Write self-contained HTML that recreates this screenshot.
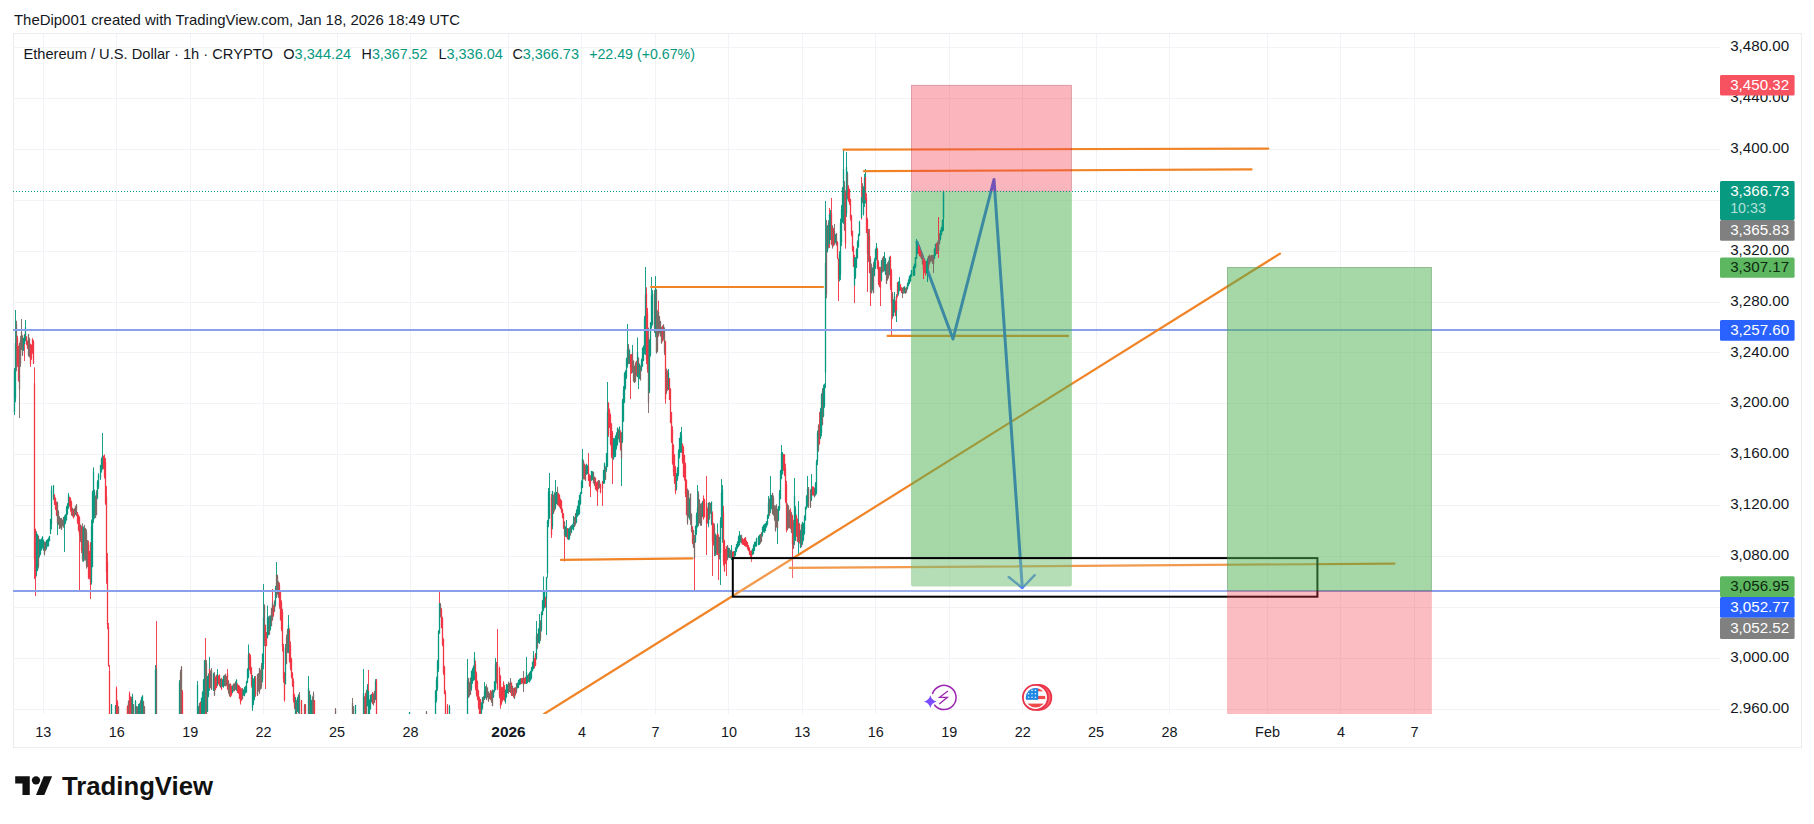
<!DOCTYPE html>
<html lang="en"><head><meta charset="utf-8"><title>ETHUSD 1h - TradingView</title>
<style>
html,body{margin:0;padding:0;background:#fff;}
body{width:1814px;height:824px;overflow:hidden;font-family:"Liberation Sans", Arial, sans-serif;}
svg{display:block}
text{font-family:"Liberation Sans", Arial, sans-serif;fill:#131722;}
.ax{font-size:15px}
.tag{font-size:15px}
</style></head><body>
<svg width="1814" height="824" viewBox="0 0 1814 824">
<defs>
<clipPath id="pane"><rect x="13" y="34" width="1707" height="680"/></clipPath>
<clipPath id="axclip"><rect x="1720" y="34" width="81" height="679.5"/></clipPath>
<clipPath id="flagclip"><circle cx="1035.6" cy="697.8" r="9.8"/></clipPath>
</defs>
<rect width="1814" height="824" fill="#fff"/>

<text x="14.0" y="25.2" font-size="15" textLength="446" lengthAdjust="spacingAndGlyphs">TheDip001 created with TradingView.com, Jan 18, 2026 18:49 UTC</text>
<rect x="13.5" y="33.5" width="1788" height="714" fill="none" stroke="#ebecef" stroke-width="1"/>
<g stroke="#f2f3f6" stroke-width="1" shape-rendering="crispEdges">
<line x1="43.5" y1="34" x2="43.5" y2="714"/>
<line x1="116.5" y1="34" x2="116.5" y2="714"/>
<line x1="190.5" y1="34" x2="190.5" y2="714"/>
<line x1="263.5" y1="34" x2="263.5" y2="714"/>
<line x1="337.5" y1="34" x2="337.5" y2="714"/>
<line x1="410.5" y1="34" x2="410.5" y2="714"/>
<line x1="508.5" y1="34" x2="508.5" y2="714"/>
<line x1="581.5" y1="34" x2="581.5" y2="714"/>
<line x1="655.5" y1="34" x2="655.5" y2="714"/>
<line x1="728.5" y1="34" x2="728.5" y2="714"/>
<line x1="802.5" y1="34" x2="802.5" y2="714"/>
<line x1="875.5" y1="34" x2="875.5" y2="714"/>
<line x1="949.5" y1="34" x2="949.5" y2="714"/>
<line x1="1022.5" y1="34" x2="1022.5" y2="714"/>
<line x1="1096.5" y1="34" x2="1096.5" y2="714"/>
<line x1="1169.5" y1="34" x2="1169.5" y2="714"/>
<line x1="1267.5" y1="34" x2="1267.5" y2="714"/>
<line x1="1340.5" y1="34" x2="1340.5" y2="714"/>
<line x1="1414.5" y1="34" x2="1414.5" y2="714"/>
<line x1="13" y1="47.5" x2="1720" y2="47.5"/>
<line x1="13" y1="98.5" x2="1720" y2="98.5"/>
<line x1="13" y1="149.5" x2="1720" y2="149.5"/>
<line x1="13" y1="200.5" x2="1720" y2="200.5"/>
<line x1="13" y1="251.5" x2="1720" y2="251.5"/>
<line x1="13" y1="302.5" x2="1720" y2="302.5"/>
<line x1="13" y1="352.5" x2="1720" y2="352.5"/>
<line x1="13" y1="403.5" x2="1720" y2="403.5"/>
<line x1="13" y1="454.5" x2="1720" y2="454.5"/>
<line x1="13" y1="505.5" x2="1720" y2="505.5"/>
<line x1="13" y1="556.5" x2="1720" y2="556.5"/>
<line x1="13" y1="607.5" x2="1720" y2="607.5"/>
<line x1="13" y1="658.5" x2="1720" y2="658.5"/>
<line x1="13" y1="709.5" x2="1720" y2="709.5"/>
</g>
<g clip-path="url(#pane)">
<g><rect x="14.00" y="368.0" width="1" height="47.0" fill="#089981" opacity="0.92"/>
<rect x="13.85" y="370.6" width="1.3" height="41.3" fill="#089981"/>
<rect x="15.00" y="310.0" width="1" height="92.2" fill="#089981" opacity="0.92"/>
<rect x="14.85" y="343.0" width="1.3" height="55.5" fill="#089981"/>
<rect x="16.00" y="320.7" width="1" height="50.6" fill="#7d6a66" opacity="0.92"/>
<rect x="15.85" y="323.8" width="1.3" height="44.0" fill="#7d6a66"/>
<rect x="17.00" y="335.8" width="1" height="30.9" fill="#f23645" opacity="0.92"/>
<rect x="16.85" y="338.1" width="1.3" height="25.6" fill="#f23645"/>
<rect x="18.00" y="345.7" width="1" height="36.0" fill="#f23645" opacity="0.92"/>
<rect x="17.85" y="346.1" width="1.3" height="34.3" fill="#f23645"/>
<rect x="19.00" y="342.7" width="1" height="75.3" fill="#7d6a66" opacity="0.92"/>
<rect x="18.85" y="343.3" width="1.3" height="46.2" fill="#7d6a66"/>
<rect x="20.00" y="335.9" width="1" height="31.0" fill="#7d6a66" opacity="0.92"/>
<rect x="19.85" y="339.6" width="1.3" height="23.8" fill="#7d6a66"/>
<rect x="21.00" y="319.0" width="1" height="30.9" fill="#7d6a66" opacity="0.92"/>
<rect x="20.85" y="332.2" width="1.3" height="17.7" fill="#7d6a66"/>
<rect x="22.00" y="335.2" width="1" height="20.5" fill="#7d6a66" opacity="0.92"/>
<rect x="21.85" y="336.5" width="1.3" height="19.1" fill="#7d6a66"/>
<rect x="22.85" y="337.9" width="1.3" height="13.0" fill="#089981"/>
<rect x="24.00" y="333.9" width="1" height="27.1" fill="#f23645" opacity="0.92"/>
<rect x="23.85" y="335.0" width="1.3" height="9.0" fill="#089981"/>
<rect x="25.00" y="320.0" width="1" height="21.2" fill="#089981" opacity="0.92"/>
<rect x="24.85" y="327.4" width="1.3" height="12.8" fill="#089981"/>
<rect x="26.00" y="336.3" width="1" height="8.8" fill="#f23645" opacity="0.92"/>
<rect x="25.85" y="336.6" width="1.3" height="7.5" fill="#f23645"/>
<rect x="27.00" y="340.5" width="1" height="8.3" fill="#f23645" opacity="0.92"/>
<rect x="26.85" y="341.2" width="1.3" height="7.3" fill="#f23645"/>
<rect x="28.00" y="334.0" width="1" height="22.5" fill="#7d6a66" opacity="0.92"/>
<rect x="27.85" y="334.6" width="1.3" height="21.1" fill="#7d6a66"/>
<rect x="29.00" y="337.8" width="1" height="19.7" fill="#7d6a66" opacity="0.92"/>
<rect x="28.85" y="338.7" width="1.3" height="16.8" fill="#7d6a66"/>
<rect x="30.00" y="343.7" width="1" height="23.1" fill="#f23645" opacity="0.92"/>
<rect x="29.85" y="344.7" width="1.3" height="19.3" fill="#f23645"/>
<rect x="31.00" y="344.5" width="1" height="15.4" fill="#f23645" opacity="0.92"/>
<rect x="30.85" y="344.9" width="1.3" height="13.3" fill="#f23645"/>
<rect x="32.00" y="338.2" width="1" height="15.6" fill="#f23645" opacity="0.92"/>
<rect x="31.85" y="339.0" width="1.3" height="12.8" fill="#f23645"/>
<rect x="33.00" y="340.2" width="1" height="23.7" fill="#f23645" opacity="0.92"/>
<rect x="32.85" y="341.3" width="1.3" height="22.3" fill="#f23645"/>
<rect x="34.00" y="367.3" width="1" height="211.7" fill="#f23645" opacity="0.92"/>
<rect x="33.85" y="383.3" width="1.3" height="175.9" fill="#f23645"/>
<rect x="35.00" y="528.7" width="1" height="67.3" fill="#f23645" opacity="0.92"/>
<rect x="34.85" y="530.3" width="1.3" height="47.7" fill="#f23645"/>
<rect x="36.00" y="531.3" width="1" height="45.0" fill="#089981" opacity="0.92"/>
<rect x="35.85" y="533.1" width="1.3" height="38.0" fill="#089981"/>
<rect x="37.00" y="534.2" width="1" height="37.0" fill="#089981" opacity="0.92"/>
<rect x="36.85" y="534.6" width="1.3" height="36.3" fill="#089981"/>
<rect x="38.00" y="535.5" width="1" height="32.9" fill="#7d6a66" opacity="0.92"/>
<rect x="37.85" y="536.2" width="1.3" height="30.0" fill="#7d6a66"/>
<rect x="39.00" y="539.1" width="1" height="18.5" fill="#089981" opacity="0.92"/>
<rect x="38.85" y="539.4" width="1.3" height="16.8" fill="#089981"/>
<rect x="40.00" y="539.5" width="1" height="15.5" fill="#089981" opacity="0.92"/>
<rect x="39.85" y="539.7" width="1.3" height="14.5" fill="#089981"/>
<rect x="41.00" y="538.3" width="1" height="12.2" fill="#089981" opacity="0.92"/>
<rect x="40.85" y="539.7" width="1.3" height="9.6" fill="#089981"/>
<rect x="42.00" y="536.3" width="1" height="12.1" fill="#089981" opacity="0.92"/>
<rect x="41.85" y="536.7" width="1.3" height="10.4" fill="#089981"/>
<rect x="43.00" y="539.5" width="1" height="11.2" fill="#089981" opacity="0.92"/>
<rect x="42.85" y="540.7" width="1.3" height="9.2" fill="#089981"/>
<rect x="44.00" y="541.6" width="1" height="13.9" fill="#7d6a66" opacity="0.92"/>
<rect x="43.85" y="541.8" width="1.3" height="12.1" fill="#7d6a66"/>
<rect x="45.00" y="541.8" width="1" height="9.1" fill="#7d6a66" opacity="0.92"/>
<rect x="44.85" y="542.2" width="1.3" height="8.5" fill="#7d6a66"/>
<rect x="46.00" y="540.1" width="1" height="9.3" fill="#089981" opacity="0.92"/>
<rect x="45.85" y="540.2" width="1.3" height="8.5" fill="#089981"/>
<rect x="47.00" y="539.3" width="1" height="7.3" fill="#089981" opacity="0.92"/>
<rect x="46.85" y="539.6" width="1.3" height="6.6" fill="#089981"/>
<rect x="48.00" y="537.5" width="1" height="9.0" fill="#089981" opacity="0.92"/>
<rect x="47.85" y="538.5" width="1.3" height="7.4" fill="#089981"/>
<rect x="48.85" y="535.8" width="1.3" height="5.5" fill="#089981"/>
<rect x="50.00" y="518.7" width="1" height="15.4" fill="#089981" opacity="0.92"/>
<rect x="49.85" y="519.1" width="1.3" height="14.6" fill="#089981"/>
<rect x="51.00" y="485.8" width="1" height="43.5" fill="#089981" opacity="0.92"/>
<rect x="50.85" y="489.7" width="1.3" height="34.7" fill="#089981"/>
<rect x="53.00" y="485.1" width="1" height="15.0" fill="#089981" opacity="0.92"/>
<rect x="52.85" y="485.5" width="1.3" height="12.9" fill="#089981"/>
<rect x="54.00" y="494.3" width="1" height="10.6" fill="#f23645" opacity="0.92"/>
<rect x="53.85" y="494.8" width="1.3" height="9.9" fill="#f23645"/>
<rect x="55.00" y="497.5" width="1" height="12.5" fill="#f23645" opacity="0.92"/>
<rect x="54.85" y="497.9" width="1.3" height="11.1" fill="#f23645"/>
<rect x="56.00" y="501.5" width="1" height="14.6" fill="#f23645" opacity="0.92"/>
<rect x="55.85" y="502.5" width="1.3" height="13.0" fill="#f23645"/>
<rect x="57.00" y="501.8" width="1" height="33.2" fill="#089981" opacity="0.92"/>
<rect x="56.85" y="502.3" width="1.3" height="20.9" fill="#7d6a66"/>
<rect x="58.00" y="510.3" width="1" height="14.7" fill="#7d6a66" opacity="0.92"/>
<rect x="57.85" y="511.8" width="1.3" height="12.1" fill="#7d6a66"/>
<rect x="59.00" y="516.1" width="1" height="12.9" fill="#7d6a66" opacity="0.92"/>
<rect x="58.85" y="517.6" width="1.3" height="11.2" fill="#7d6a66"/>
<rect x="59.85" y="518.0" width="1.3" height="10.2" fill="#7d6a66"/>
<rect x="61.00" y="517.9" width="1" height="11.9" fill="#7d6a66" opacity="0.92"/>
<rect x="60.85" y="518.7" width="1.3" height="10.9" fill="#7d6a66"/>
<rect x="62.00" y="519.6" width="1" height="6.7" fill="#7d6a66" opacity="0.92"/>
<rect x="61.85" y="520.2" width="1.3" height="5.6" fill="#7d6a66"/>
<rect x="62.85" y="516.9" width="1.3" height="10.8" fill="#7d6a66"/>
<rect x="64.00" y="515.4" width="1" height="36.6" fill="#089981" opacity="0.92"/>
<rect x="63.85" y="516.6" width="1.3" height="8.9" fill="#089981"/>
<rect x="65.00" y="514.1" width="1" height="9.7" fill="#089981" opacity="0.92"/>
<rect x="64.85" y="514.8" width="1.3" height="8.4" fill="#089981"/>
<rect x="66.00" y="506.1" width="1" height="14.6" fill="#089981" opacity="0.92"/>
<rect x="65.85" y="507.3" width="1.3" height="12.7" fill="#089981"/>
<rect x="67.00" y="503.1" width="1" height="11.8" fill="#089981" opacity="0.92"/>
<rect x="66.85" y="503.8" width="1.3" height="10.0" fill="#089981"/>
<rect x="68.00" y="493.0" width="1" height="15.9" fill="#089981" opacity="0.92"/>
<rect x="67.85" y="494.8" width="1.3" height="12.8" fill="#089981"/>
<rect x="69.00" y="496.6" width="1" height="10.0" fill="#f23645" opacity="0.92"/>
<rect x="68.85" y="497.7" width="1.3" height="8.4" fill="#f23645"/>
<rect x="70.00" y="497.3" width="1" height="14.3" fill="#f23645" opacity="0.92"/>
<rect x="69.85" y="498.4" width="1.3" height="11.5" fill="#f23645"/>
<rect x="71.00" y="500.7" width="1" height="14.9" fill="#f23645" opacity="0.92"/>
<rect x="70.85" y="502.2" width="1.3" height="12.6" fill="#f23645"/>
<rect x="72.00" y="507.7" width="1" height="8.8" fill="#7d6a66" opacity="0.92"/>
<rect x="71.85" y="508.3" width="1.3" height="7.5" fill="#7d6a66"/>
<rect x="73.00" y="509.0" width="1" height="9.6" fill="#f23645" opacity="0.92"/>
<rect x="72.85" y="509.1" width="1.3" height="8.8" fill="#f23645"/>
<rect x="74.00" y="508.3" width="1" height="8.4" fill="#7d6a66" opacity="0.92"/>
<rect x="73.85" y="508.7" width="1.3" height="7.3" fill="#7d6a66"/>
<rect x="75.00" y="505.9" width="1" height="9.1" fill="#7d6a66" opacity="0.92"/>
<rect x="74.85" y="506.0" width="1.3" height="8.2" fill="#7d6a66"/>
<rect x="76.00" y="504.1" width="1" height="12.0" fill="#7d6a66" opacity="0.92"/>
<rect x="75.85" y="504.9" width="1.3" height="10.5" fill="#7d6a66"/>
<rect x="77.00" y="512.0" width="1" height="11.9" fill="#f23645" opacity="0.92"/>
<rect x="76.85" y="512.9" width="1.3" height="9.7" fill="#f23645"/>
<rect x="78.00" y="514.6" width="1" height="16.9" fill="#f23645" opacity="0.92"/>
<rect x="77.85" y="515.2" width="1.3" height="15.0" fill="#f23645"/>
<rect x="79.00" y="516.4" width="1" height="73.6" fill="#f23645" opacity="0.92"/>
<rect x="78.85" y="516.9" width="1.3" height="18.5" fill="#f23645"/>
<rect x="80.00" y="524.4" width="1" height="17.7" fill="#7d6a66" opacity="0.92"/>
<rect x="79.85" y="525.3" width="1.3" height="14.9" fill="#7d6a66"/>
<rect x="81.00" y="525.6" width="1" height="27.4" fill="#f23645" opacity="0.92"/>
<rect x="80.85" y="527.0" width="1.3" height="23.3" fill="#f23645"/>
<rect x="82.00" y="523.3" width="1" height="38.2" fill="#7d6a66" opacity="0.92"/>
<rect x="81.85" y="527.3" width="1.3" height="32.4" fill="#7d6a66"/>
<rect x="83.00" y="526.4" width="1" height="35.4" fill="#089981" opacity="0.92"/>
<rect x="82.85" y="528.5" width="1.3" height="29.7" fill="#089981"/>
<rect x="84.00" y="524.8" width="1" height="35.8" fill="#7d6a66" opacity="0.92"/>
<rect x="83.85" y="527.9" width="1.3" height="28.7" fill="#7d6a66"/>
<rect x="85.00" y="527.9" width="1" height="32.7" fill="#7d6a66" opacity="0.92"/>
<rect x="84.85" y="529.0" width="1.3" height="30.8" fill="#7d6a66"/>
<rect x="86.00" y="529.3" width="1" height="39.3" fill="#7d6a66" opacity="0.92"/>
<rect x="85.85" y="532.3" width="1.3" height="34.0" fill="#7d6a66"/>
<rect x="87.00" y="540.0" width="1" height="27.2" fill="#7d6a66" opacity="0.92"/>
<rect x="86.85" y="541.5" width="1.3" height="25.5" fill="#7d6a66"/>
<rect x="88.00" y="540.6" width="1" height="38.2" fill="#f23645" opacity="0.92"/>
<rect x="87.85" y="544.6" width="1.3" height="34.0" fill="#f23645"/>
<rect x="89.00" y="550.9" width="1" height="28.5" fill="#f23645" opacity="0.92"/>
<rect x="88.85" y="552.0" width="1.3" height="24.7" fill="#f23645"/>
<rect x="90.00" y="542.2" width="1" height="56.8" fill="#f23645" opacity="0.92"/>
<rect x="89.85" y="542.3" width="1.3" height="42.7" fill="#f23645"/>
<rect x="91.00" y="519.6" width="1" height="64.9" fill="#089981" opacity="0.92"/>
<rect x="90.85" y="526.1" width="1.3" height="56.6" fill="#089981"/>
<rect x="92.00" y="490.7" width="1" height="76.6" fill="#089981" opacity="0.92"/>
<rect x="91.85" y="492.0" width="1.3" height="74.9" fill="#089981"/>
<rect x="93.00" y="467.4" width="1" height="55.6" fill="#089981" opacity="0.92"/>
<rect x="92.85" y="471.6" width="1.3" height="48.5" fill="#089981"/>
<rect x="94.00" y="489.6" width="1" height="29.1" fill="#089981" opacity="0.92"/>
<rect x="93.85" y="492.4" width="1.3" height="23.0" fill="#089981"/>
<rect x="95.00" y="495.5" width="1" height="22.5" fill="#7d6a66" opacity="0.92"/>
<rect x="94.85" y="496.0" width="1.3" height="22.0" fill="#7d6a66"/>
<rect x="96.00" y="490.2" width="1" height="25.1" fill="#7d6a66" opacity="0.92"/>
<rect x="95.85" y="492.4" width="1.3" height="22.4" fill="#7d6a66"/>
<rect x="97.00" y="480.3" width="1" height="18.8" fill="#089981" opacity="0.92"/>
<rect x="96.85" y="481.5" width="1.3" height="16.2" fill="#089981"/>
<rect x="98.00" y="473.2" width="1" height="15.8" fill="#089981" opacity="0.92"/>
<rect x="97.85" y="474.7" width="1.3" height="12.5" fill="#089981"/>
<rect x="100.00" y="464.9" width="1" height="15.0" fill="#089981" opacity="0.92"/>
<rect x="99.85" y="465.1" width="1.3" height="13.2" fill="#089981"/>
<rect x="101.00" y="457.6" width="1" height="15.0" fill="#089981" opacity="0.92"/>
<rect x="100.85" y="458.5" width="1.3" height="13.0" fill="#089981"/>
<rect x="102.00" y="433.0" width="1" height="36.6" fill="#089981" opacity="0.92"/>
<rect x="101.85" y="455.7" width="1.3" height="12.3" fill="#089981"/>
<rect x="103.00" y="455.5" width="1" height="13.8" fill="#f23645" opacity="0.92"/>
<rect x="102.85" y="456.3" width="1.3" height="11.9" fill="#f23645"/>
<rect x="104.00" y="454.5" width="1" height="24.0" fill="#f23645" opacity="0.92"/>
<rect x="103.85" y="456.9" width="1.3" height="19.8" fill="#f23645"/>
<rect x="105.00" y="458.1" width="1" height="46.7" fill="#f23645" opacity="0.92"/>
<rect x="104.85" y="462.1" width="1.3" height="41.5" fill="#f23645"/>
<rect x="106.00" y="486.0" width="1" height="97.8" fill="#f23645" opacity="0.92"/>
<rect x="105.85" y="496.6" width="1.3" height="75.7" fill="#f23645"/>
<rect x="107.00" y="553.2" width="1" height="75.9" fill="#f23645" opacity="0.92"/>
<rect x="106.85" y="562.1" width="1.3" height="62.1" fill="#f23645"/>
<rect x="108.00" y="623.0" width="1" height="43.7" fill="#f23645" opacity="0.92"/>
<rect x="107.85" y="627.1" width="1.3" height="37.9" fill="#f23645"/>
<rect x="109.00" y="665.0" width="1" height="55.0" fill="#f23645" opacity="0.92"/>
<rect x="108.85" y="671.0" width="1.3" height="43.3" fill="#f23645"/>
<rect x="111.00" y="704.0" width="1" height="16.0" fill="#089981" opacity="0.92"/>
<rect x="110.85" y="704.7" width="1.3" height="15.2" fill="#089981"/>
<rect x="115.00" y="705.0" width="1" height="15.0" fill="#089981" opacity="0.92"/>
<rect x="114.85" y="705.8" width="1.3" height="13.2" fill="#089981"/>
<rect x="116.00" y="686.5" width="1" height="33.5" fill="#f23645" opacity="0.92"/>
<rect x="115.85" y="688.5" width="1.3" height="31.4" fill="#f23645"/>
<rect x="117.00" y="700.2" width="1" height="19.8" fill="#f23645" opacity="0.92"/>
<rect x="116.85" y="702.1" width="1.3" height="17.8" fill="#f23645"/>
<rect x="118.00" y="706.0" width="1" height="14.0" fill="#7d6a66" opacity="0.92"/>
<rect x="117.85" y="707.3" width="1.3" height="12.4" fill="#7d6a66"/>
<rect x="127.00" y="706.0" width="1" height="14.0" fill="#7d6a66" opacity="0.92"/>
<rect x="126.85" y="707.3" width="1.3" height="12.4" fill="#7d6a66"/>
<rect x="127.00" y="705.3" width="1" height="12.0" fill="#f23645" opacity="0.92"/>
<rect x="126.85" y="706.5" width="1.3" height="9.8" fill="#f23645"/>
<rect x="128.00" y="700.6" width="1" height="14.8" fill="#7d6a66" opacity="0.92"/>
<rect x="127.85" y="700.8" width="1.3" height="14.3" fill="#7d6a66"/>
<rect x="129.00" y="691.6" width="1" height="23.5" fill="#f23645" opacity="0.92"/>
<rect x="128.85" y="693.4" width="1.3" height="20.3" fill="#f23645"/>
<rect x="130.00" y="696.3" width="1" height="20.2" fill="#f23645" opacity="0.92"/>
<rect x="129.85" y="697.0" width="1.3" height="18.5" fill="#f23645"/>
<rect x="131.00" y="696.8" width="1" height="23.2" fill="#7d6a66" opacity="0.92"/>
<rect x="130.85" y="699.2" width="1.3" height="18.3" fill="#7d6a66"/>
<rect x="132.00" y="693.7" width="1" height="26.3" fill="#089981" opacity="0.92"/>
<rect x="131.85" y="696.4" width="1.3" height="20.6" fill="#089981"/>
<rect x="133.00" y="704.0" width="1" height="16.0" fill="#7d6a66" opacity="0.92"/>
<rect x="132.85" y="705.0" width="1.3" height="13.9" fill="#7d6a66"/>
<rect x="135.00" y="700.0" width="1" height="20.0" fill="#089981" opacity="0.92"/>
<rect x="134.85" y="701.3" width="1.3" height="17.5" fill="#089981"/>
<rect x="135.00" y="705.2" width="1" height="14.7" fill="#089981" opacity="0.92"/>
<rect x="134.85" y="706.9" width="1.3" height="12.1" fill="#089981"/>
<rect x="136.00" y="705.9" width="1" height="14.1" fill="#7d6a66" opacity="0.92"/>
<rect x="135.85" y="706.6" width="1.3" height="12.1" fill="#7d6a66"/>
<rect x="137.00" y="706.7" width="1" height="11.1" fill="#7d6a66" opacity="0.92"/>
<rect x="136.85" y="706.8" width="1.3" height="10.3" fill="#7d6a66"/>
<rect x="138.00" y="704.1" width="1" height="15.9" fill="#089981" opacity="0.92"/>
<rect x="137.85" y="705.9" width="1.3" height="12.3" fill="#089981"/>
<rect x="139.00" y="703.3" width="1" height="14.9" fill="#089981" opacity="0.92"/>
<rect x="138.85" y="703.5" width="1.3" height="13.9" fill="#089981"/>
<rect x="140.00" y="700.2" width="1" height="19.8" fill="#7d6a66" opacity="0.92"/>
<rect x="139.85" y="702.2" width="1.3" height="15.7" fill="#7d6a66"/>
<rect x="141.00" y="696.8" width="1" height="22.1" fill="#089981" opacity="0.92"/>
<rect x="140.85" y="698.5" width="1.3" height="18.0" fill="#089981"/>
<rect x="142.00" y="695.5" width="1" height="20.2" fill="#089981" opacity="0.92"/>
<rect x="141.85" y="695.5" width="1.3" height="19.7" fill="#089981"/>
<rect x="143.00" y="700.9" width="1" height="19.1" fill="#7d6a66" opacity="0.92"/>
<rect x="142.85" y="701.4" width="1.3" height="17.0" fill="#7d6a66"/>
<rect x="144.00" y="706.0" width="1" height="14.0" fill="#7d6a66" opacity="0.92"/>
<rect x="143.85" y="706.6" width="1.3" height="12.4" fill="#7d6a66"/>
<rect x="155.00" y="665.0" width="1" height="55.0" fill="#089981" opacity="0.92"/>
<rect x="154.85" y="669.8" width="1.3" height="49.4" fill="#089981"/>
<rect x="156.00" y="621.0" width="1" height="99.0" fill="#f23645" opacity="0.92"/>
<rect x="155.85" y="668.4" width="1.3" height="50.0" fill="#7d6a66"/>
<rect x="179.00" y="680.0" width="1" height="40.0" fill="#089981" opacity="0.92"/>
<rect x="178.85" y="682.5" width="1.3" height="35.4" fill="#089981"/>
<rect x="180.00" y="669.8" width="1" height="50.2" fill="#7d6a66" opacity="0.92"/>
<rect x="179.85" y="672.1" width="1.3" height="45.4" fill="#7d6a66"/>
<rect x="181.00" y="666.0" width="1" height="54.0" fill="#7d6a66" opacity="0.92"/>
<rect x="180.85" y="667.1" width="1.3" height="51.6" fill="#7d6a66"/>
<rect x="182.00" y="690.0" width="1" height="30.0" fill="#f23645" opacity="0.92"/>
<rect x="181.85" y="692.3" width="1.3" height="25.8" fill="#f23645"/>
<rect x="197.00" y="681.0" width="1" height="39.0" fill="#089981" opacity="0.92"/>
<rect x="196.85" y="685.0" width="1.3" height="32.2" fill="#089981"/>
<rect x="198.00" y="706.0" width="1" height="14.0" fill="#089981" opacity="0.92"/>
<rect x="197.85" y="707.4" width="1.3" height="12.2" fill="#089981"/>
<rect x="199.00" y="702.9" width="1" height="17.1" fill="#7d6a66" opacity="0.92"/>
<rect x="198.85" y="704.5" width="1.3" height="13.6" fill="#7d6a66"/>
<rect x="200.00" y="701.6" width="1" height="14.4" fill="#f23645" opacity="0.92"/>
<rect x="199.85" y="702.0" width="1.3" height="12.3" fill="#f23645"/>
<rect x="201.00" y="697.6" width="1" height="22.4" fill="#089981" opacity="0.92"/>
<rect x="200.85" y="697.9" width="1.3" height="21.4" fill="#089981"/>
<rect x="202.00" y="691.3" width="1" height="28.7" fill="#089981" opacity="0.92"/>
<rect x="201.85" y="692.2" width="1.3" height="27.5" fill="#089981"/>
<rect x="203.00" y="679.2" width="1" height="35.6" fill="#089981" opacity="0.92"/>
<rect x="202.85" y="679.7" width="1.3" height="33.3" fill="#089981"/>
<rect x="204.00" y="660.3" width="1" height="59.7" fill="#089981" opacity="0.92"/>
<rect x="203.85" y="660.4" width="1.3" height="58.2" fill="#089981"/>
<rect x="205.00" y="638.0" width="1" height="82.0" fill="#f23645" opacity="0.92"/>
<rect x="204.85" y="659.8" width="1.3" height="52.3" fill="#7d6a66"/>
<rect x="206.00" y="660.0" width="1" height="60.0" fill="#7d6a66" opacity="0.92"/>
<rect x="205.85" y="663.6" width="1.3" height="50.9" fill="#7d6a66"/>
<rect x="207.00" y="676.1" width="1" height="35.8" fill="#089981" opacity="0.92"/>
<rect x="206.85" y="676.4" width="1.3" height="35.1" fill="#089981"/>
<rect x="208.00" y="673.3" width="1" height="23.9" fill="#089981" opacity="0.92"/>
<rect x="207.85" y="674.8" width="1.3" height="20.8" fill="#089981"/>
<rect x="209.00" y="657.0" width="1" height="33.8" fill="#089981" opacity="0.92"/>
<rect x="208.85" y="668.8" width="1.3" height="19.7" fill="#f23645"/>
<rect x="210.00" y="670.7" width="1" height="17.5" fill="#7d6a66" opacity="0.92"/>
<rect x="209.85" y="670.8" width="1.3" height="15.4" fill="#7d6a66"/>
<rect x="211.00" y="668.0" width="1" height="22.0" fill="#7d6a66" opacity="0.92"/>
<rect x="210.85" y="670.0" width="1.3" height="19.1" fill="#7d6a66"/>
<rect x="213.00" y="672.7" width="1" height="18.2" fill="#089981" opacity="0.92"/>
<rect x="212.85" y="674.0" width="1.3" height="16.9" fill="#089981"/>
<rect x="214.00" y="672.1" width="1" height="23.8" fill="#7d6a66" opacity="0.92"/>
<rect x="213.85" y="674.5" width="1.3" height="20.8" fill="#7d6a66"/>
<rect x="215.00" y="676.6" width="1" height="13.6" fill="#f23645" opacity="0.92"/>
<rect x="214.85" y="676.9" width="1.3" height="13.0" fill="#f23645"/>
<rect x="216.00" y="674.8" width="1" height="13.1" fill="#f23645" opacity="0.92"/>
<rect x="215.85" y="675.6" width="1.3" height="12.2" fill="#f23645"/>
<rect x="217.00" y="669.0" width="1" height="17.1" fill="#089981" opacity="0.92"/>
<rect x="216.85" y="673.7" width="1.3" height="11.1" fill="#089981"/>
<rect x="218.00" y="675.5" width="1" height="8.7" fill="#f23645" opacity="0.92"/>
<rect x="217.85" y="675.9" width="1.3" height="7.7" fill="#f23645"/>
<rect x="219.00" y="674.3" width="1" height="12.0" fill="#f23645" opacity="0.92"/>
<rect x="218.85" y="675.0" width="1.3" height="9.9" fill="#f23645"/>
<rect x="220.00" y="678.5" width="1" height="9.2" fill="#089981" opacity="0.92"/>
<rect x="219.85" y="679.5" width="1.3" height="7.4" fill="#089981"/>
<rect x="221.00" y="677.8" width="1" height="12.0" fill="#f23645" opacity="0.92"/>
<rect x="220.85" y="679.0" width="1.3" height="10.2" fill="#f23645"/>
<rect x="222.00" y="679.1" width="1" height="7.8" fill="#089981" opacity="0.92"/>
<rect x="221.85" y="679.8" width="1.3" height="6.4" fill="#089981"/>
<rect x="223.00" y="675.7" width="1" height="12.0" fill="#089981" opacity="0.92"/>
<rect x="222.85" y="676.3" width="1.3" height="10.4" fill="#089981"/>
<rect x="224.00" y="674.9" width="1" height="10.9" fill="#7d6a66" opacity="0.92"/>
<rect x="223.85" y="675.5" width="1.3" height="10.3" fill="#7d6a66"/>
<rect x="225.00" y="673.8" width="1" height="12.7" fill="#7d6a66" opacity="0.92"/>
<rect x="224.85" y="674.7" width="1.3" height="10.8" fill="#7d6a66"/>
<rect x="226.00" y="676.1" width="1" height="9.8" fill="#7d6a66" opacity="0.92"/>
<rect x="225.85" y="676.5" width="1.3" height="8.6" fill="#7d6a66"/>
<rect x="227.00" y="669.0" width="1" height="20.8" fill="#f23645" opacity="0.92"/>
<rect x="226.85" y="673.3" width="1.3" height="15.7" fill="#f23645"/>
<rect x="228.00" y="680.1" width="1" height="13.6" fill="#7d6a66" opacity="0.92"/>
<rect x="227.85" y="681.3" width="1.3" height="10.8" fill="#7d6a66"/>
<rect x="229.00" y="683.6" width="1" height="12.9" fill="#7d6a66" opacity="0.92"/>
<rect x="228.85" y="684.0" width="1.3" height="11.9" fill="#7d6a66"/>
<rect x="230.00" y="683.6" width="1" height="13.6" fill="#f23645" opacity="0.92"/>
<rect x="229.85" y="683.8" width="1.3" height="13.1" fill="#f23645"/>
<rect x="231.00" y="685.6" width="1" height="10.1" fill="#f23645" opacity="0.92"/>
<rect x="230.85" y="686.8" width="1.3" height="8.2" fill="#f23645"/>
<rect x="232.00" y="685.6" width="1" height="7.6" fill="#089981" opacity="0.92"/>
<rect x="231.85" y="685.6" width="1.3" height="6.9" fill="#089981"/>
<rect x="233.00" y="683.6" width="1" height="7.9" fill="#7d6a66" opacity="0.92"/>
<rect x="232.85" y="683.8" width="1.3" height="7.3" fill="#7d6a66"/>
<rect x="234.00" y="683.6" width="1" height="7.6" fill="#7d6a66" opacity="0.92"/>
<rect x="233.85" y="683.6" width="1.3" height="6.7" fill="#7d6a66"/>
<rect x="235.00" y="681.5" width="1" height="8.2" fill="#7d6a66" opacity="0.92"/>
<rect x="234.85" y="681.9" width="1.3" height="7.5" fill="#7d6a66"/>
<rect x="236.00" y="679.2" width="1" height="11.6" fill="#089981" opacity="0.92"/>
<rect x="235.85" y="680.0" width="1.3" height="10.4" fill="#089981"/>
<rect x="236.85" y="683.5" width="1.3" height="9.4" fill="#f23645"/>
<rect x="238.00" y="685.0" width="1" height="8.9" fill="#f23645" opacity="0.92"/>
<rect x="237.85" y="685.4" width="1.3" height="7.6" fill="#f23645"/>
<rect x="239.00" y="685.6" width="1" height="13.2" fill="#f23645" opacity="0.92"/>
<rect x="238.85" y="686.8" width="1.3" height="12.0" fill="#f23645"/>
<rect x="240.00" y="687.3" width="1" height="17.2" fill="#f23645" opacity="0.92"/>
<rect x="239.85" y="689.3" width="1.3" height="13.2" fill="#f23645"/>
<rect x="241.00" y="688.3" width="1" height="12.6" fill="#f23645" opacity="0.92"/>
<rect x="240.85" y="688.9" width="1.3" height="11.2" fill="#f23645"/>
<rect x="242.00" y="688.0" width="1" height="11.4" fill="#7d6a66" opacity="0.92"/>
<rect x="241.85" y="689.3" width="1.3" height="9.7" fill="#7d6a66"/>
<rect x="243.00" y="689.6" width="1" height="6.1" fill="#089981" opacity="0.92"/>
<rect x="242.85" y="690.0" width="1.3" height="5.1" fill="#089981"/>
<rect x="244.00" y="687.1" width="1" height="9.1" fill="#089981" opacity="0.92"/>
<rect x="243.85" y="687.8" width="1.3" height="8.3" fill="#089981"/>
<rect x="244.85" y="685.9" width="1.3" height="7.5" fill="#089981"/>
<rect x="246.00" y="680.8" width="1" height="11.7" fill="#089981" opacity="0.92"/>
<rect x="245.85" y="681.5" width="1.3" height="10.8" fill="#089981"/>
<rect x="247.00" y="668.3" width="1" height="14.8" fill="#089981" opacity="0.92"/>
<rect x="246.85" y="669.1" width="1.3" height="13.5" fill="#089981"/>
<rect x="248.00" y="644.5" width="1" height="33.7" fill="#089981" opacity="0.92"/>
<rect x="247.85" y="654.8" width="1.3" height="22.2" fill="#089981"/>
<rect x="249.00" y="653.0" width="1" height="17.2" fill="#f23645" opacity="0.92"/>
<rect x="248.85" y="654.6" width="1.3" height="14.5" fill="#f23645"/>
<rect x="250.00" y="654.5" width="1" height="19.6" fill="#f23645" opacity="0.92"/>
<rect x="249.85" y="656.8" width="1.3" height="15.0" fill="#f23645"/>
<rect x="251.00" y="667.2" width="1" height="20.3" fill="#f23645" opacity="0.92"/>
<rect x="250.85" y="667.5" width="1.3" height="17.8" fill="#f23645"/>
<rect x="252.00" y="675.0" width="1" height="35.9" fill="#089981" opacity="0.92"/>
<rect x="251.85" y="678.4" width="1.3" height="29.8" fill="#089981"/>
<rect x="253.00" y="678.4" width="1" height="26.7" fill="#089981" opacity="0.92"/>
<rect x="252.85" y="680.6" width="1.3" height="22.7" fill="#089981"/>
<rect x="254.00" y="676.0" width="1" height="24.2" fill="#089981" opacity="0.92"/>
<rect x="253.85" y="677.7" width="1.3" height="20.7" fill="#089981"/>
<rect x="255.00" y="676.0" width="1" height="20.8" fill="#f23645" opacity="0.92"/>
<rect x="254.85" y="678.4" width="1.3" height="16.1" fill="#f23645"/>
<rect x="256.85" y="674.1" width="1.3" height="21.8" fill="#7d6a66"/>
<rect x="258.00" y="673.1" width="1" height="18.5" fill="#7d6a66" opacity="0.92"/>
<rect x="257.85" y="673.4" width="1.3" height="17.1" fill="#7d6a66"/>
<rect x="259.00" y="667.9" width="1" height="26.0" fill="#7d6a66" opacity="0.92"/>
<rect x="258.85" y="668.2" width="1.3" height="23.6" fill="#7d6a66"/>
<rect x="260.00" y="669.8" width="1" height="19.8" fill="#7d6a66" opacity="0.92"/>
<rect x="259.85" y="671.0" width="1.3" height="18.2" fill="#7d6a66"/>
<rect x="261.00" y="663.1" width="1" height="25.6" fill="#7d6a66" opacity="0.92"/>
<rect x="260.85" y="665.4" width="1.3" height="20.8" fill="#7d6a66"/>
<rect x="262.00" y="653.5" width="1" height="28.8" fill="#089981" opacity="0.92"/>
<rect x="261.85" y="653.9" width="1.3" height="25.6" fill="#089981"/>
<rect x="263.00" y="584.0" width="1" height="85.2" fill="#089981" opacity="0.92"/>
<rect x="262.85" y="617.4" width="1.3" height="46.6" fill="#089981"/>
<rect x="264.00" y="604.3" width="1" height="41.8" fill="#7d6a66" opacity="0.92"/>
<rect x="263.85" y="605.6" width="1.3" height="36.5" fill="#7d6a66"/>
<rect x="265.00" y="624.6" width="1" height="64.4" fill="#f23645" opacity="0.92"/>
<rect x="264.85" y="625.3" width="1.3" height="15.7" fill="#f23645"/>
<rect x="266.00" y="632.0" width="1" height="14.4" fill="#f23645" opacity="0.92"/>
<rect x="265.85" y="632.8" width="1.3" height="13.1" fill="#f23645"/>
<rect x="267.00" y="605.6" width="1" height="32.8" fill="#089981" opacity="0.92"/>
<rect x="266.85" y="617.8" width="1.3" height="20.3" fill="#089981"/>
<rect x="268.00" y="616.3" width="1" height="19.1" fill="#089981" opacity="0.92"/>
<rect x="267.85" y="617.9" width="1.3" height="16.9" fill="#089981"/>
<rect x="269.00" y="615.5" width="1" height="19.2" fill="#7d6a66" opacity="0.92"/>
<rect x="268.85" y="617.3" width="1.3" height="17.2" fill="#7d6a66"/>
<rect x="270.00" y="615.4" width="1" height="15.1" fill="#089981" opacity="0.92"/>
<rect x="269.85" y="615.9" width="1.3" height="13.2" fill="#089981"/>
<rect x="271.00" y="607.8" width="1" height="18.4" fill="#7d6a66" opacity="0.92"/>
<rect x="270.85" y="608.4" width="1.3" height="17.5" fill="#7d6a66"/>
<rect x="272.00" y="589.0" width="1" height="31.8" fill="#f23645" opacity="0.92"/>
<rect x="271.85" y="602.7" width="1.3" height="17.2" fill="#7d6a66"/>
<rect x="273.00" y="604.9" width="1" height="11.8" fill="#f23645" opacity="0.92"/>
<rect x="272.85" y="606.2" width="1.3" height="9.2" fill="#f23645"/>
<rect x="274.00" y="600.4" width="1" height="11.5" fill="#7d6a66" opacity="0.92"/>
<rect x="273.85" y="600.9" width="1.3" height="10.7" fill="#7d6a66"/>
<rect x="275.00" y="585.9" width="1" height="20.7" fill="#089981" opacity="0.92"/>
<rect x="274.85" y="588.3" width="1.3" height="16.1" fill="#089981"/>
<rect x="276.00" y="562.0" width="1" height="36.0" fill="#089981" opacity="0.92"/>
<rect x="275.85" y="574.8" width="1.3" height="22.2" fill="#7d6a66"/>
<rect x="277.00" y="574.7" width="1" height="19.9" fill="#7d6a66" opacity="0.92"/>
<rect x="276.85" y="575.6" width="1.3" height="18.5" fill="#7d6a66"/>
<rect x="278.00" y="581.2" width="1" height="16.8" fill="#7d6a66" opacity="0.92"/>
<rect x="277.85" y="582.9" width="1.3" height="14.0" fill="#7d6a66"/>
<rect x="279.00" y="582.6" width="1" height="26.2" fill="#f23645" opacity="0.92"/>
<rect x="278.85" y="585.0" width="1.3" height="21.0" fill="#f23645"/>
<rect x="280.00" y="591.2" width="1" height="29.2" fill="#f23645" opacity="0.92"/>
<rect x="279.85" y="592.2" width="1.3" height="28.1" fill="#f23645"/>
<rect x="281.00" y="600.4" width="1" height="30.8" fill="#f23645" opacity="0.92"/>
<rect x="280.85" y="602.3" width="1.3" height="26.9" fill="#f23645"/>
<rect x="282.00" y="608.9" width="1" height="42.7" fill="#f23645" opacity="0.92"/>
<rect x="281.85" y="611.8" width="1.3" height="34.9" fill="#f23645"/>
<rect x="283.00" y="643.9" width="1" height="38.7" fill="#f23645" opacity="0.92"/>
<rect x="282.85" y="646.9" width="1.3" height="31.9" fill="#f23645"/>
<rect x="284.00" y="672.3" width="1" height="29.4" fill="#f23645" opacity="0.92"/>
<rect x="283.85" y="672.6" width="1.3" height="27.3" fill="#f23645"/>
<rect x="285.00" y="644.0" width="1" height="40.4" fill="#089981" opacity="0.92"/>
<rect x="284.85" y="647.8" width="1.3" height="36.2" fill="#089981"/>
<rect x="286.00" y="634.7" width="1" height="29.6" fill="#7d6a66" opacity="0.92"/>
<rect x="285.85" y="637.9" width="1.3" height="26.1" fill="#7d6a66"/>
<rect x="287.00" y="628.7" width="1" height="24.4" fill="#7d6a66" opacity="0.92"/>
<rect x="286.85" y="630.6" width="1.3" height="21.8" fill="#7d6a66"/>
<rect x="288.00" y="615.0" width="1" height="38.2" fill="#089981" opacity="0.92"/>
<rect x="287.85" y="625.0" width="1.3" height="26.3" fill="#089981"/>
<rect x="289.00" y="628.4" width="1" height="34.2" fill="#f23645" opacity="0.92"/>
<rect x="288.85" y="630.1" width="1.3" height="31.2" fill="#f23645"/>
<rect x="290.00" y="641.5" width="1" height="28.8" fill="#f23645" opacity="0.92"/>
<rect x="289.85" y="644.9" width="1.3" height="23.2" fill="#f23645"/>
<rect x="291.00" y="657.7" width="1" height="20.7" fill="#f23645" opacity="0.92"/>
<rect x="290.85" y="658.9" width="1.3" height="18.1" fill="#f23645"/>
<rect x="292.00" y="672.1" width="1" height="14.8" fill="#f23645" opacity="0.92"/>
<rect x="291.85" y="673.7" width="1.3" height="12.4" fill="#f23645"/>
<rect x="293.00" y="678.5" width="1" height="24.0" fill="#f23645" opacity="0.92"/>
<rect x="292.85" y="680.9" width="1.3" height="19.7" fill="#f23645"/>
<rect x="294.00" y="693.8" width="1" height="15.2" fill="#f23645" opacity="0.92"/>
<rect x="293.85" y="695.3" width="1.3" height="12.1" fill="#f23645"/>
<rect x="295.00" y="697.0" width="1" height="23.0" fill="#089981" opacity="0.92"/>
<rect x="294.85" y="698.8" width="1.3" height="19.8" fill="#089981"/>
<rect x="296.00" y="699.8" width="1" height="20.2" fill="#7d6a66" opacity="0.92"/>
<rect x="295.85" y="701.7" width="1.3" height="17.3" fill="#7d6a66"/>
<rect x="297.00" y="696.9" width="1" height="15.1" fill="#089981" opacity="0.92"/>
<rect x="296.85" y="698.7" width="1.3" height="12.6" fill="#089981"/>
<rect x="298.00" y="694.2" width="1" height="19.3" fill="#089981" opacity="0.92"/>
<rect x="297.85" y="695.2" width="1.3" height="17.6" fill="#089981"/>
<rect x="299.00" y="692.0" width="1" height="27.8" fill="#7d6a66" opacity="0.92"/>
<rect x="298.85" y="695.3" width="1.3" height="24.4" fill="#7d6a66"/>
<rect x="301.00" y="700.0" width="1" height="20.0" fill="#f23645" opacity="0.92"/>
<rect x="300.85" y="700.3" width="1.3" height="18.2" fill="#f23645"/>
<rect x="304.00" y="704.0" width="1" height="16.0" fill="#7d6a66" opacity="0.92"/>
<rect x="303.85" y="705.5" width="1.3" height="14.2" fill="#7d6a66"/>
<rect x="305.00" y="704.0" width="1" height="16.0" fill="#f23645" opacity="0.92"/>
<rect x="304.85" y="704.9" width="1.3" height="14.0" fill="#f23645"/>
<rect x="308.00" y="676.0" width="1" height="44.0" fill="#089981" opacity="0.92"/>
<rect x="307.85" y="688.1" width="1.3" height="31.4" fill="#089981"/>
<rect x="309.00" y="690.6" width="1" height="28.0" fill="#7d6a66" opacity="0.92"/>
<rect x="308.85" y="691.3" width="1.3" height="24.8" fill="#7d6a66"/>
<rect x="310.00" y="694.6" width="1" height="24.3" fill="#089981" opacity="0.92"/>
<rect x="309.85" y="695.5" width="1.3" height="22.9" fill="#089981"/>
<rect x="311.00" y="700.0" width="1" height="20.0" fill="#089981" opacity="0.92"/>
<rect x="310.85" y="700.7" width="1.3" height="17.9" fill="#089981"/>
<rect x="312.00" y="696.3" width="1" height="22.2" fill="#7d6a66" opacity="0.92"/>
<rect x="311.85" y="698.7" width="1.3" height="17.4" fill="#7d6a66"/>
<rect x="313.00" y="691.5" width="1" height="28.5" fill="#7d6a66" opacity="0.92"/>
<rect x="312.85" y="693.4" width="1.3" height="23.3" fill="#7d6a66"/>
<rect x="314.00" y="700.0" width="1" height="20.0" fill="#f23645" opacity="0.92"/>
<rect x="313.85" y="700.5" width="1.3" height="19.4" fill="#f23645"/>
<rect x="335.00" y="708.0" width="1" height="12.0" fill="#7d6a66" opacity="0.92"/>
<rect x="334.85" y="709.4" width="1.3" height="9.5" fill="#7d6a66"/>
<rect x="352.00" y="698.0" width="1" height="22.0" fill="#7d6a66" opacity="0.92"/>
<rect x="351.85" y="703.1" width="1.3" height="15.7" fill="#7d6a66"/>
<rect x="353.00" y="706.0" width="1" height="14.0" fill="#7d6a66" opacity="0.92"/>
<rect x="352.85" y="707.7" width="1.3" height="11.2" fill="#7d6a66"/>
<rect x="355.00" y="705.0" width="1" height="15.0" fill="#089981" opacity="0.92"/>
<rect x="354.85" y="705.0" width="1.3" height="14.1" fill="#089981"/>
<rect x="363.00" y="669.0" width="1" height="51.0" fill="#089981" opacity="0.92"/>
<rect x="362.85" y="693.2" width="1.3" height="24.1" fill="#089981"/>
<rect x="364.00" y="696.4" width="1" height="19.9" fill="#7d6a66" opacity="0.92"/>
<rect x="363.85" y="696.8" width="1.3" height="19.1" fill="#7d6a66"/>
<rect x="365.00" y="692.9" width="1" height="21.6" fill="#f23645" opacity="0.92"/>
<rect x="364.85" y="694.3" width="1.3" height="18.6" fill="#f23645"/>
<rect x="366.00" y="689.7" width="1" height="29.6" fill="#7d6a66" opacity="0.92"/>
<rect x="365.85" y="690.7" width="1.3" height="26.7" fill="#7d6a66"/>
<rect x="367.00" y="684.0" width="1" height="22.2" fill="#089981" opacity="0.92"/>
<rect x="366.85" y="686.0" width="1.3" height="20.1" fill="#089981"/>
<rect x="368.00" y="670.0" width="1" height="50.0" fill="#f23645" opacity="0.92"/>
<rect x="367.85" y="690.9" width="1.3" height="25.8" fill="#089981"/>
<rect x="369.00" y="699.6" width="1" height="19.6" fill="#089981" opacity="0.92"/>
<rect x="368.85" y="699.8" width="1.3" height="18.7" fill="#089981"/>
<rect x="370.00" y="694.8" width="1" height="14.8" fill="#089981" opacity="0.92"/>
<rect x="369.85" y="695.0" width="1.3" height="13.8" fill="#089981"/>
<rect x="371.00" y="693.9" width="1" height="8.6" fill="#089981" opacity="0.92"/>
<rect x="370.85" y="694.5" width="1.3" height="7.1" fill="#089981"/>
<rect x="372.00" y="692.2" width="1" height="12.0" fill="#f23645" opacity="0.92"/>
<rect x="371.85" y="692.6" width="1.3" height="10.4" fill="#f23645"/>
<rect x="373.00" y="693.5" width="1" height="12.0" fill="#7d6a66" opacity="0.92"/>
<rect x="372.85" y="694.1" width="1.3" height="10.1" fill="#7d6a66"/>
<rect x="374.00" y="690.9" width="1" height="12.0" fill="#7d6a66" opacity="0.92"/>
<rect x="373.85" y="691.7" width="1.3" height="10.5" fill="#7d6a66"/>
<rect x="375.00" y="679.1" width="1" height="20.9" fill="#089981" opacity="0.92"/>
<rect x="374.85" y="681.2" width="1.3" height="18.0" fill="#089981"/>
<rect x="376.00" y="679.0" width="1" height="41.0" fill="#f23645" opacity="0.92"/>
<rect x="375.85" y="680.5" width="1.3" height="39.1" fill="#f23645"/>
<rect x="409.00" y="712.0" width="1" height="8.0" fill="#089981" opacity="0.92"/>
<rect x="408.85" y="712.3" width="1.3" height="7.3" fill="#089981"/>
<rect x="426.00" y="711.0" width="1" height="9.0" fill="#7d6a66" opacity="0.92"/>
<rect x="425.85" y="711.4" width="1.3" height="7.9" fill="#7d6a66"/>
<rect x="435.00" y="690.0" width="1" height="30.0" fill="#089981" opacity="0.92"/>
<rect x="434.85" y="691.4" width="1.3" height="26.9" fill="#089981"/>
<rect x="436.00" y="676.7" width="1" height="25.6" fill="#089981" opacity="0.92"/>
<rect x="435.85" y="679.7" width="1.3" height="20.1" fill="#089981"/>
<rect x="437.00" y="659.8" width="1" height="30.9" fill="#089981" opacity="0.92"/>
<rect x="436.85" y="661.2" width="1.3" height="26.9" fill="#089981"/>
<rect x="438.00" y="630.2" width="1" height="41.8" fill="#089981" opacity="0.92"/>
<rect x="437.85" y="631.3" width="1.3" height="37.8" fill="#089981"/>
<rect x="439.00" y="590.0" width="1" height="43.6" fill="#f23645" opacity="0.92"/>
<rect x="438.85" y="603.1" width="1.3" height="30.5" fill="#089981"/>
<rect x="440.00" y="603.1" width="1" height="14.4" fill="#7d6a66" opacity="0.92"/>
<rect x="439.85" y="604.8" width="1.3" height="11.3" fill="#7d6a66"/>
<rect x="441.00" y="608.0" width="1" height="20.4" fill="#f23645" opacity="0.92"/>
<rect x="440.85" y="609.5" width="1.3" height="18.2" fill="#f23645"/>
<rect x="442.00" y="616.9" width="1" height="29.3" fill="#f23645" opacity="0.92"/>
<rect x="441.85" y="618.2" width="1.3" height="26.1" fill="#f23645"/>
<rect x="443.00" y="638.2" width="1" height="36.7" fill="#f23645" opacity="0.92"/>
<rect x="442.85" y="639.5" width="1.3" height="33.9" fill="#f23645"/>
<rect x="444.00" y="665.8" width="1" height="28.5" fill="#f23645" opacity="0.92"/>
<rect x="443.85" y="666.7" width="1.3" height="27.0" fill="#f23645"/>
<rect x="445.00" y="690.3" width="1" height="25.7" fill="#f23645" opacity="0.92"/>
<rect x="444.85" y="692.6" width="1.3" height="22.4" fill="#f23645"/>
<rect x="447.00" y="704.0" width="1" height="16.0" fill="#f23645" opacity="0.92"/>
<rect x="446.85" y="705.8" width="1.3" height="13.1" fill="#f23645"/>
<rect x="449.00" y="705.0" width="1" height="15.0" fill="#089981" opacity="0.92"/>
<rect x="448.85" y="706.3" width="1.3" height="13.1" fill="#089981"/>
<rect x="467.00" y="659.0" width="1" height="61.0" fill="#089981" opacity="0.92"/>
<rect x="466.85" y="680.4" width="1.3" height="39.1" fill="#089981"/>
<rect x="468.00" y="677.9" width="1" height="19.9" fill="#7d6a66" opacity="0.92"/>
<rect x="467.85" y="678.2" width="1.3" height="19.3" fill="#7d6a66"/>
<rect x="469.00" y="682.1" width="1" height="14.5" fill="#7d6a66" opacity="0.92"/>
<rect x="468.85" y="682.8" width="1.3" height="12.3" fill="#7d6a66"/>
<rect x="470.00" y="677.5" width="1" height="17.3" fill="#7d6a66" opacity="0.92"/>
<rect x="469.85" y="677.8" width="1.3" height="16.7" fill="#7d6a66"/>
<rect x="471.00" y="670.8" width="1" height="19.8" fill="#089981" opacity="0.92"/>
<rect x="470.85" y="670.9" width="1.3" height="17.5" fill="#089981"/>
<rect x="472.00" y="668.0" width="1" height="15.9" fill="#089981" opacity="0.92"/>
<rect x="471.85" y="669.3" width="1.3" height="13.2" fill="#089981"/>
<rect x="473.00" y="665.5" width="1" height="15.4" fill="#089981" opacity="0.92"/>
<rect x="472.85" y="666.1" width="1.3" height="14.0" fill="#089981"/>
<rect x="474.00" y="652.0" width="1" height="28.2" fill="#089981" opacity="0.92"/>
<rect x="473.85" y="657.3" width="1.3" height="21.7" fill="#089981"/>
<rect x="475.00" y="660.6" width="1" height="29.7" fill="#f23645" opacity="0.92"/>
<rect x="474.85" y="664.1" width="1.3" height="23.4" fill="#f23645"/>
<rect x="476.00" y="671.7" width="1" height="24.7" fill="#f23645" opacity="0.92"/>
<rect x="475.85" y="673.6" width="1.3" height="21.0" fill="#f23645"/>
<rect x="477.00" y="680.6" width="1" height="19.7" fill="#f23645" opacity="0.92"/>
<rect x="476.85" y="681.4" width="1.3" height="17.4" fill="#f23645"/>
<rect x="478.00" y="689.8" width="1" height="19.4" fill="#f23645" opacity="0.92"/>
<rect x="477.85" y="691.0" width="1.3" height="16.4" fill="#f23645"/>
<rect x="479.00" y="696.6" width="1" height="23.4" fill="#f23645" opacity="0.92"/>
<rect x="478.85" y="698.9" width="1.3" height="19.4" fill="#f23645"/>
<rect x="480.00" y="699.1" width="1" height="20.9" fill="#f23645" opacity="0.92"/>
<rect x="479.85" y="699.5" width="1.3" height="18.5" fill="#f23645"/>
<rect x="481.00" y="702.3" width="1" height="11.5" fill="#089981" opacity="0.92"/>
<rect x="480.85" y="702.8" width="1.3" height="10.3" fill="#089981"/>
<rect x="482.00" y="697.2" width="1" height="12.4" fill="#089981" opacity="0.92"/>
<rect x="481.85" y="697.4" width="1.3" height="11.1" fill="#089981"/>
<rect x="483.00" y="696.2" width="1" height="7.3" fill="#7d6a66" opacity="0.92"/>
<rect x="482.85" y="696.8" width="1.3" height="5.9" fill="#7d6a66"/>
<rect x="484.00" y="682.0" width="1" height="17.7" fill="#089981" opacity="0.92"/>
<rect x="483.85" y="691.4" width="1.3" height="8.2" fill="#089981"/>
<rect x="485.00" y="686.2" width="1" height="12.0" fill="#089981" opacity="0.92"/>
<rect x="484.85" y="687.2" width="1.3" height="10.5" fill="#089981"/>
<rect x="486.00" y="684.3" width="1" height="15.7" fill="#7d6a66" opacity="0.92"/>
<rect x="485.85" y="686.0" width="1.3" height="13.3" fill="#7d6a66"/>
<rect x="487.00" y="687.5" width="1" height="10.3" fill="#7d6a66" opacity="0.92"/>
<rect x="486.85" y="687.7" width="1.3" height="9.0" fill="#7d6a66"/>
<rect x="488.00" y="691.3" width="1" height="10.6" fill="#7d6a66" opacity="0.92"/>
<rect x="487.85" y="692.0" width="1.3" height="9.1" fill="#7d6a66"/>
<rect x="489.00" y="693.2" width="1" height="5.8" fill="#7d6a66" opacity="0.92"/>
<rect x="488.85" y="693.7" width="1.3" height="4.8" fill="#7d6a66"/>
<rect x="490.00" y="690.1" width="1" height="10.0" fill="#f23645" opacity="0.92"/>
<rect x="489.85" y="691.1" width="1.3" height="8.7" fill="#f23645"/>
<rect x="491.00" y="690.8" width="1" height="11.8" fill="#7d6a66" opacity="0.92"/>
<rect x="490.85" y="691.9" width="1.3" height="10.4" fill="#7d6a66"/>
<rect x="491.85" y="689.5" width="1.3" height="16.7" fill="#7d6a66"/>
<rect x="493.00" y="690.1" width="1" height="7.6" fill="#089981" opacity="0.92"/>
<rect x="492.85" y="690.7" width="1.3" height="6.7" fill="#089981"/>
<rect x="494.00" y="681.2" width="1" height="11.2" fill="#089981" opacity="0.92"/>
<rect x="493.85" y="681.7" width="1.3" height="9.9" fill="#089981"/>
<rect x="495.00" y="658.0" width="1" height="32.2" fill="#089981" opacity="0.92"/>
<rect x="494.85" y="664.5" width="1.3" height="25.6" fill="#089981"/>
<rect x="496.00" y="661.8" width="1" height="21.7" fill="#7d6a66" opacity="0.92"/>
<rect x="495.85" y="662.3" width="1.3" height="20.0" fill="#7d6a66"/>
<rect x="497.00" y="629.0" width="1" height="61.1" fill="#f23645" opacity="0.92"/>
<rect x="496.85" y="663.8" width="1.3" height="24.6" fill="#f23645"/>
<rect x="499.00" y="666.7" width="1" height="31.7" fill="#f23645" opacity="0.92"/>
<rect x="498.85" y="668.0" width="1.3" height="28.0" fill="#f23645"/>
<rect x="500.00" y="675.5" width="1" height="33.2" fill="#f23645" opacity="0.92"/>
<rect x="499.85" y="675.6" width="1.3" height="30.4" fill="#f23645"/>
<rect x="501.00" y="686.7" width="1" height="18.0" fill="#f23645" opacity="0.92"/>
<rect x="500.85" y="688.0" width="1.3" height="15.7" fill="#f23645"/>
<rect x="502.00" y="687.0" width="1" height="14.6" fill="#f23645" opacity="0.92"/>
<rect x="501.85" y="688.2" width="1.3" height="12.1" fill="#f23645"/>
<rect x="503.00" y="681.2" width="1" height="18.8" fill="#f23645" opacity="0.92"/>
<rect x="502.85" y="682.9" width="1.3" height="16.0" fill="#f23645"/>
<rect x="504.00" y="684.9" width="1" height="16.4" fill="#f23645" opacity="0.92"/>
<rect x="503.85" y="686.9" width="1.3" height="12.8" fill="#f23645"/>
<rect x="505.00" y="689.6" width="1" height="13.9" fill="#089981" opacity="0.92"/>
<rect x="504.85" y="690.5" width="1.3" height="11.4" fill="#089981"/>
<rect x="506.00" y="683.9" width="1" height="13.9" fill="#089981" opacity="0.92"/>
<rect x="505.85" y="684.7" width="1.3" height="12.1" fill="#089981"/>
<rect x="506.85" y="684.4" width="1.3" height="8.7" fill="#089981"/>
<rect x="508.00" y="681.8" width="1" height="12.0" fill="#7d6a66" opacity="0.92"/>
<rect x="507.85" y="683.1" width="1.3" height="9.6" fill="#7d6a66"/>
<rect x="509.00" y="682.8" width="1" height="9.2" fill="#7d6a66" opacity="0.92"/>
<rect x="508.85" y="683.4" width="1.3" height="8.5" fill="#7d6a66"/>
<rect x="510.00" y="678.0" width="1" height="14.9" fill="#7d6a66" opacity="0.92"/>
<rect x="509.85" y="681.1" width="1.3" height="11.0" fill="#7d6a66"/>
<rect x="511.00" y="682.7" width="1" height="13.3" fill="#f23645" opacity="0.92"/>
<rect x="510.85" y="682.8" width="1.3" height="12.1" fill="#f23645"/>
<rect x="512.00" y="685.6" width="1" height="10.4" fill="#7d6a66" opacity="0.92"/>
<rect x="511.85" y="686.3" width="1.3" height="9.4" fill="#7d6a66"/>
<rect x="513.00" y="688.1" width="1" height="9.6" fill="#f23645" opacity="0.92"/>
<rect x="512.85" y="688.2" width="1.3" height="8.4" fill="#f23645"/>
<rect x="514.00" y="687.4" width="1" height="11.7" fill="#7d6a66" opacity="0.92"/>
<rect x="513.85" y="688.3" width="1.3" height="9.5" fill="#7d6a66"/>
<rect x="515.00" y="687.2" width="1" height="8.3" fill="#f23645" opacity="0.92"/>
<rect x="514.85" y="688.0" width="1.3" height="7.0" fill="#f23645"/>
<rect x="516.00" y="683.4" width="1" height="9.7" fill="#7d6a66" opacity="0.92"/>
<rect x="515.85" y="683.5" width="1.3" height="8.7" fill="#7d6a66"/>
<rect x="516.85" y="682.7" width="1.3" height="5.8" fill="#089981"/>
<rect x="518.00" y="679.9" width="1" height="8.0" fill="#089981" opacity="0.92"/>
<rect x="517.85" y="680.2" width="1.3" height="7.4" fill="#089981"/>
<rect x="519.00" y="678.8" width="1" height="6.3" fill="#089981" opacity="0.92"/>
<rect x="518.85" y="679.4" width="1.3" height="5.4" fill="#089981"/>
<rect x="519.85" y="678.2" width="1.3" height="6.3" fill="#089981"/>
<rect x="521.00" y="678.1" width="1" height="5.9" fill="#f23645" opacity="0.92"/>
<rect x="520.85" y="678.5" width="1.3" height="4.9" fill="#f23645"/>
<rect x="521.85" y="678.0" width="1.3" height="5.5" fill="#f23645"/>
<rect x="523.00" y="671.0" width="1" height="21.0" fill="#7d6a66" opacity="0.92"/>
<rect x="522.85" y="677.1" width="1.3" height="7.6" fill="#7d6a66"/>
<rect x="523.85" y="678.0" width="1.3" height="6.0" fill="#f23645"/>
<rect x="525.00" y="676.7" width="1" height="6.9" fill="#f23645" opacity="0.92"/>
<rect x="524.85" y="677.3" width="1.3" height="6.2" fill="#f23645"/>
<rect x="526.00" y="657.0" width="1" height="27.0" fill="#089981" opacity="0.92"/>
<rect x="525.85" y="672.2" width="1.3" height="11.6" fill="#089981"/>
<rect x="527.00" y="675.1" width="1" height="8.2" fill="#089981" opacity="0.92"/>
<rect x="526.85" y="676.0" width="1.3" height="6.5" fill="#089981"/>
<rect x="528.00" y="673.7" width="1" height="8.2" fill="#7d6a66" opacity="0.92"/>
<rect x="527.85" y="674.6" width="1.3" height="6.8" fill="#7d6a66"/>
<rect x="529.00" y="672.4" width="1" height="10.0" fill="#089981" opacity="0.92"/>
<rect x="528.85" y="672.7" width="1.3" height="9.4" fill="#089981"/>
<rect x="530.00" y="670.8" width="1" height="9.9" fill="#089981" opacity="0.92"/>
<rect x="529.85" y="671.1" width="1.3" height="8.9" fill="#089981"/>
<rect x="531.00" y="666.9" width="1" height="12.3" fill="#089981" opacity="0.92"/>
<rect x="530.85" y="667.4" width="1.3" height="10.8" fill="#089981"/>
<rect x="532.00" y="661.6" width="1" height="9.8" fill="#089981" opacity="0.92"/>
<rect x="531.85" y="661.9" width="1.3" height="9.1" fill="#089981"/>
<rect x="533.00" y="651.0" width="1" height="18.3" fill="#089981" opacity="0.92"/>
<rect x="532.85" y="655.6" width="1.3" height="12.5" fill="#089981"/>
<rect x="534.00" y="657.9" width="1" height="10.6" fill="#f23645" opacity="0.92"/>
<rect x="533.85" y="658.0" width="1.3" height="9.2" fill="#f23645"/>
<rect x="535.00" y="653.1" width="1" height="12.7" fill="#f23645" opacity="0.92"/>
<rect x="534.85" y="653.9" width="1.3" height="11.9" fill="#f23645"/>
<rect x="536.00" y="621.0" width="1" height="38.6" fill="#089981" opacity="0.92"/>
<rect x="535.85" y="635.8" width="1.3" height="22.9" fill="#089981"/>
<rect x="537.00" y="633.6" width="1" height="15.2" fill="#7d6a66" opacity="0.92"/>
<rect x="536.85" y="634.1" width="1.3" height="13.3" fill="#7d6a66"/>
<rect x="538.00" y="628.4" width="1" height="14.6" fill="#089981" opacity="0.92"/>
<rect x="537.85" y="628.8" width="1.3" height="13.7" fill="#089981"/>
<rect x="539.00" y="614.0" width="1" height="29.8" fill="#089981" opacity="0.92"/>
<rect x="538.85" y="623.4" width="1.3" height="19.9" fill="#089981"/>
<rect x="540.00" y="620.1" width="1" height="20.8" fill="#7d6a66" opacity="0.92"/>
<rect x="539.85" y="622.4" width="1.3" height="16.1" fill="#7d6a66"/>
<rect x="541.00" y="611.4" width="1" height="20.1" fill="#089981" opacity="0.92"/>
<rect x="540.85" y="612.5" width="1.3" height="17.2" fill="#089981"/>
<rect x="542.00" y="599.8" width="1" height="15.4" fill="#089981" opacity="0.92"/>
<rect x="541.85" y="600.8" width="1.3" height="14.2" fill="#089981"/>
<rect x="543.00" y="576.5" width="1" height="34.7" fill="#089981" opacity="0.92"/>
<rect x="542.85" y="590.8" width="1.3" height="18.7" fill="#089981"/>
<rect x="544.00" y="590.9" width="1" height="17.4" fill="#089981" opacity="0.92"/>
<rect x="543.85" y="591.6" width="1.3" height="15.2" fill="#089981"/>
<rect x="545.00" y="596.7" width="1" height="10.9" fill="#f23645" opacity="0.92"/>
<rect x="544.85" y="597.8" width="1.3" height="8.9" fill="#f23645"/>
<rect x="546.00" y="576.8" width="1" height="58.2" fill="#089981" opacity="0.92"/>
<rect x="545.85" y="577.3" width="1.3" height="21.4" fill="#089981"/>
<rect x="547.00" y="519.9" width="1" height="57.8" fill="#089981" opacity="0.92"/>
<rect x="546.85" y="521.0" width="1.3" height="52.4" fill="#089981"/>
<rect x="548.00" y="488.0" width="1" height="39.1" fill="#089981" opacity="0.92"/>
<rect x="547.85" y="491.7" width="1.3" height="31.8" fill="#089981"/>
<rect x="549.00" y="473.0" width="1" height="45.9" fill="#089981" opacity="0.92"/>
<rect x="548.85" y="490.9" width="1.3" height="27.2" fill="#089981"/>
<rect x="551.00" y="494.0" width="1" height="43.9" fill="#f23645" opacity="0.92"/>
<rect x="550.85" y="497.0" width="1.3" height="38.2" fill="#f23645"/>
<rect x="552.00" y="490.8" width="1" height="38.4" fill="#089981" opacity="0.92"/>
<rect x="551.85" y="491.0" width="1.3" height="35.5" fill="#089981"/>
<rect x="553.00" y="494.6" width="1" height="19.4" fill="#7d6a66" opacity="0.92"/>
<rect x="552.85" y="495.0" width="1.3" height="18.6" fill="#7d6a66"/>
<rect x="554.00" y="492.2" width="1" height="19.2" fill="#7d6a66" opacity="0.92"/>
<rect x="553.85" y="493.3" width="1.3" height="17.1" fill="#7d6a66"/>
<rect x="555.00" y="480.0" width="1" height="29.2" fill="#089981" opacity="0.92"/>
<rect x="554.85" y="493.4" width="1.3" height="14.2" fill="#089981"/>
<rect x="556.00" y="491.9" width="1" height="12.2" fill="#089981" opacity="0.92"/>
<rect x="555.85" y="492.7" width="1.3" height="10.6" fill="#089981"/>
<rect x="557.00" y="486.7" width="1" height="18.4" fill="#7d6a66" opacity="0.92"/>
<rect x="556.85" y="491.5" width="1.3" height="13.2" fill="#7d6a66"/>
<rect x="558.00" y="493.1" width="1" height="12.9" fill="#f23645" opacity="0.92"/>
<rect x="557.85" y="493.6" width="1.3" height="11.4" fill="#f23645"/>
<rect x="559.00" y="494.4" width="1" height="12.9" fill="#f23645" opacity="0.92"/>
<rect x="558.85" y="495.2" width="1.3" height="11.7" fill="#f23645"/>
<rect x="560.00" y="498.6" width="1" height="10.6" fill="#f23645" opacity="0.92"/>
<rect x="559.85" y="499.6" width="1.3" height="9.3" fill="#f23645"/>
<rect x="561.00" y="500.3" width="1" height="12.4" fill="#f23645" opacity="0.92"/>
<rect x="560.85" y="500.7" width="1.3" height="11.8" fill="#f23645"/>
<rect x="562.00" y="508.6" width="1" height="9.6" fill="#f23645" opacity="0.92"/>
<rect x="561.85" y="509.5" width="1.3" height="8.6" fill="#f23645"/>
<rect x="563.00" y="513.0" width="1" height="16.0" fill="#f23645" opacity="0.92"/>
<rect x="562.85" y="513.8" width="1.3" height="14.5" fill="#f23645"/>
<rect x="564.00" y="521.3" width="1" height="40.2" fill="#f23645" opacity="0.92"/>
<rect x="563.85" y="521.7" width="1.3" height="13.7" fill="#7d6a66"/>
<rect x="565.00" y="526.3" width="1" height="10.6" fill="#089981" opacity="0.92"/>
<rect x="564.85" y="526.9" width="1.3" height="9.0" fill="#089981"/>
<rect x="566.00" y="520.0" width="1" height="17.3" fill="#089981" opacity="0.92"/>
<rect x="565.85" y="530.0" width="1.3" height="6.6" fill="#089981"/>
<rect x="566.85" y="528.0" width="1.3" height="11.4" fill="#f23645"/>
<rect x="568.00" y="528.4" width="1" height="11.7" fill="#089981" opacity="0.92"/>
<rect x="567.85" y="528.8" width="1.3" height="10.7" fill="#089981"/>
<rect x="569.00" y="527.4" width="1" height="12.1" fill="#089981" opacity="0.92"/>
<rect x="568.85" y="528.8" width="1.3" height="9.5" fill="#089981"/>
<rect x="570.00" y="525.9" width="1" height="9.6" fill="#7d6a66" opacity="0.92"/>
<rect x="569.85" y="526.7" width="1.3" height="8.5" fill="#7d6a66"/>
<rect x="571.00" y="525.2" width="1" height="7.6" fill="#089981" opacity="0.92"/>
<rect x="570.85" y="525.7" width="1.3" height="6.9" fill="#089981"/>
<rect x="571.85" y="524.2" width="1.3" height="5.1" fill="#089981"/>
<rect x="573.00" y="516.0" width="1" height="14.3" fill="#089981" opacity="0.92"/>
<rect x="572.85" y="521.8" width="1.3" height="7.8" fill="#089981"/>
<rect x="574.00" y="517.0" width="1" height="10.0" fill="#7d6a66" opacity="0.92"/>
<rect x="573.85" y="517.8" width="1.3" height="9.1" fill="#7d6a66"/>
<rect x="575.00" y="513.0" width="1" height="12.4" fill="#7d6a66" opacity="0.92"/>
<rect x="574.85" y="514.0" width="1.3" height="10.1" fill="#7d6a66"/>
<rect x="576.00" y="509.3" width="1" height="13.9" fill="#089981" opacity="0.92"/>
<rect x="575.85" y="510.8" width="1.3" height="11.6" fill="#089981"/>
<rect x="577.00" y="505.7" width="1" height="11.2" fill="#089981" opacity="0.92"/>
<rect x="576.85" y="506.2" width="1.3" height="9.6" fill="#089981"/>
<rect x="578.00" y="500.3" width="1" height="15.3" fill="#089981" opacity="0.92"/>
<rect x="577.85" y="500.6" width="1.3" height="14.0" fill="#089981"/>
<rect x="579.00" y="494.8" width="1" height="19.7" fill="#089981" opacity="0.92"/>
<rect x="578.85" y="495.2" width="1.3" height="18.8" fill="#089981"/>
<rect x="580.00" y="492.1" width="1" height="12.7" fill="#089981" opacity="0.92"/>
<rect x="579.85" y="492.6" width="1.3" height="11.5" fill="#089981"/>
<rect x="581.00" y="480.4" width="1" height="13.7" fill="#089981" opacity="0.92"/>
<rect x="580.85" y="481.9" width="1.3" height="11.9" fill="#089981"/>
<rect x="582.00" y="449.0" width="1" height="39.1" fill="#089981" opacity="0.92"/>
<rect x="581.85" y="458.9" width="1.3" height="28.9" fill="#089981"/>
<rect x="583.00" y="459.7" width="1" height="19.7" fill="#7d6a66" opacity="0.92"/>
<rect x="582.85" y="461.3" width="1.3" height="17.2" fill="#7d6a66"/>
<rect x="584.00" y="463.5" width="1" height="16.1" fill="#f23645" opacity="0.92"/>
<rect x="583.85" y="464.0" width="1.3" height="14.8" fill="#f23645"/>
<rect x="585.00" y="465.2" width="1" height="15.6" fill="#7d6a66" opacity="0.92"/>
<rect x="584.85" y="466.6" width="1.3" height="13.8" fill="#7d6a66"/>
<rect x="586.00" y="463.7" width="1" height="11.1" fill="#089981" opacity="0.92"/>
<rect x="585.85" y="464.2" width="1.3" height="9.6" fill="#089981"/>
<rect x="586.85" y="465.3" width="1.3" height="8.8" fill="#089981"/>
<rect x="588.00" y="453.0" width="1" height="27.8" fill="#f23645" opacity="0.92"/>
<rect x="587.85" y="466.8" width="1.3" height="13.9" fill="#f23645"/>
<rect x="589.00" y="474.1" width="1" height="12.5" fill="#f23645" opacity="0.92"/>
<rect x="588.85" y="475.5" width="1.3" height="10.7" fill="#f23645"/>
<rect x="590.00" y="475.6" width="1" height="21.4" fill="#f23645" opacity="0.92"/>
<rect x="589.85" y="475.6" width="1.3" height="7.6" fill="#f23645"/>
<rect x="590.85" y="470.9" width="1.3" height="9.9" fill="#089981"/>
<rect x="591.85" y="471.2" width="1.3" height="8.7" fill="#089981"/>
<rect x="593.00" y="471.8" width="1" height="11.8" fill="#7d6a66" opacity="0.92"/>
<rect x="592.85" y="472.4" width="1.3" height="10.5" fill="#7d6a66"/>
<rect x="594.00" y="476.5" width="1" height="9.4" fill="#7d6a66" opacity="0.92"/>
<rect x="593.85" y="477.3" width="1.3" height="7.9" fill="#7d6a66"/>
<rect x="595.00" y="477.6" width="1" height="12.0" fill="#f23645" opacity="0.92"/>
<rect x="594.85" y="477.9" width="1.3" height="11.3" fill="#f23645"/>
<rect x="596.00" y="482.1" width="1" height="9.0" fill="#f23645" opacity="0.92"/>
<rect x="595.85" y="482.6" width="1.3" height="7.7" fill="#f23645"/>
<rect x="597.00" y="481.3" width="1" height="24.7" fill="#f23645" opacity="0.92"/>
<rect x="596.85" y="481.6" width="1.3" height="10.9" fill="#f23645"/>
<rect x="597.85" y="480.0" width="1.3" height="9.2" fill="#7d6a66"/>
<rect x="599.00" y="480.3" width="1" height="7.6" fill="#7d6a66" opacity="0.92"/>
<rect x="598.85" y="481.2" width="1.3" height="6.5" fill="#7d6a66"/>
<rect x="600.00" y="483.6" width="1" height="9.7" fill="#f23645" opacity="0.92"/>
<rect x="599.85" y="484.4" width="1.3" height="8.1" fill="#f23645"/>
<rect x="602.00" y="480.9" width="1" height="25.1" fill="#f23645" opacity="0.92"/>
<rect x="601.85" y="481.2" width="1.3" height="7.5" fill="#f23645"/>
<rect x="603.00" y="469.8" width="1" height="14.2" fill="#089981" opacity="0.92"/>
<rect x="602.85" y="470.0" width="1.3" height="13.3" fill="#089981"/>
<rect x="604.00" y="462.6" width="1" height="20.9" fill="#089981" opacity="0.92"/>
<rect x="603.85" y="463.5" width="1.3" height="19.7" fill="#089981"/>
<rect x="605.00" y="466.3" width="1" height="13.6" fill="#7d6a66" opacity="0.92"/>
<rect x="604.85" y="467.1" width="1.3" height="12.3" fill="#7d6a66"/>
<rect x="606.00" y="453.0" width="1" height="18.8" fill="#089981" opacity="0.92"/>
<rect x="605.85" y="453.4" width="1.3" height="16.9" fill="#089981"/>
<rect x="607.00" y="382.0" width="1" height="85.0" fill="#089981" opacity="0.92"/>
<rect x="606.85" y="411.7" width="1.3" height="54.7" fill="#089981"/>
<rect x="608.00" y="402.3" width="1" height="34.5" fill="#f23645" opacity="0.92"/>
<rect x="607.85" y="402.9" width="1.3" height="31.5" fill="#f23645"/>
<rect x="609.00" y="408.6" width="1" height="19.3" fill="#f23645" opacity="0.92"/>
<rect x="608.85" y="410.2" width="1.3" height="17.6" fill="#f23645"/>
<rect x="610.00" y="413.6" width="1" height="31.8" fill="#f23645" opacity="0.92"/>
<rect x="609.85" y="415.1" width="1.3" height="28.9" fill="#f23645"/>
<rect x="611.00" y="423.3" width="1" height="34.9" fill="#f23645" opacity="0.92"/>
<rect x="610.85" y="423.5" width="1.3" height="32.9" fill="#f23645"/>
<rect x="612.00" y="431.0" width="1" height="53.0" fill="#f23645" opacity="0.92"/>
<rect x="611.85" y="432.7" width="1.3" height="21.8" fill="#f23645"/>
<rect x="613.00" y="438.0" width="1" height="21.8" fill="#089981" opacity="0.92"/>
<rect x="612.85" y="438.8" width="1.3" height="20.3" fill="#089981"/>
<rect x="614.00" y="438.2" width="1" height="19.1" fill="#089981" opacity="0.92"/>
<rect x="613.85" y="440.2" width="1.3" height="15.7" fill="#089981"/>
<rect x="615.00" y="435.4" width="1" height="21.8" fill="#089981" opacity="0.92"/>
<rect x="614.85" y="436.1" width="1.3" height="19.4" fill="#089981"/>
<rect x="616.00" y="432.3" width="1" height="17.3" fill="#089981" opacity="0.92"/>
<rect x="615.85" y="433.6" width="1.3" height="14.1" fill="#089981"/>
<rect x="617.00" y="427.4" width="1" height="18.2" fill="#089981" opacity="0.92"/>
<rect x="616.85" y="428.2" width="1.3" height="16.2" fill="#089981"/>
<rect x="618.00" y="429.2" width="1" height="10.1" fill="#7d6a66" opacity="0.92"/>
<rect x="617.85" y="430.0" width="1.3" height="8.6" fill="#7d6a66"/>
<rect x="619.00" y="426.3" width="1" height="16.3" fill="#089981" opacity="0.92"/>
<rect x="618.85" y="427.1" width="1.3" height="14.9" fill="#089981"/>
<rect x="620.00" y="430.3" width="1" height="20.3" fill="#f23645" opacity="0.92"/>
<rect x="619.85" y="432.4" width="1.3" height="17.2" fill="#f23645"/>
<rect x="621.00" y="432.4" width="1" height="53.6" fill="#089981" opacity="0.92"/>
<rect x="620.85" y="432.5" width="1.3" height="25.9" fill="#7d6a66"/>
<rect x="622.00" y="398.8" width="1" height="44.2" fill="#089981" opacity="0.92"/>
<rect x="621.85" y="400.5" width="1.3" height="40.7" fill="#089981"/>
<rect x="623.00" y="386.1" width="1" height="35.7" fill="#089981" opacity="0.92"/>
<rect x="622.85" y="390.3" width="1.3" height="30.9" fill="#089981"/>
<rect x="624.00" y="372.3" width="1" height="30.8" fill="#089981" opacity="0.92"/>
<rect x="623.85" y="373.0" width="1.3" height="29.2" fill="#089981"/>
<rect x="625.00" y="370.5" width="1" height="19.1" fill="#089981" opacity="0.92"/>
<rect x="624.85" y="370.5" width="1.3" height="17.8" fill="#089981"/>
<rect x="626.00" y="357.7" width="1" height="21.3" fill="#089981" opacity="0.92"/>
<rect x="625.85" y="358.9" width="1.3" height="18.4" fill="#089981"/>
<rect x="627.00" y="324.0" width="1" height="43.7" fill="#089981" opacity="0.92"/>
<rect x="626.85" y="349.2" width="1.3" height="16.5" fill="#089981"/>
<rect x="628.00" y="344.0" width="1" height="20.0" fill="#7d6a66" opacity="0.92"/>
<rect x="627.85" y="346.3" width="1.3" height="16.9" fill="#7d6a66"/>
<rect x="629.00" y="349.3" width="1" height="14.7" fill="#089981" opacity="0.92"/>
<rect x="628.85" y="350.5" width="1.3" height="12.2" fill="#089981"/>
<rect x="630.00" y="354.5" width="1" height="44.5" fill="#f23645" opacity="0.92"/>
<rect x="629.85" y="354.8" width="1.3" height="13.4" fill="#f23645"/>
<rect x="631.00" y="354.0" width="1" height="19.7" fill="#f23645" opacity="0.92"/>
<rect x="630.85" y="354.9" width="1.3" height="18.2" fill="#f23645"/>
<rect x="632.00" y="345.0" width="1" height="27.8" fill="#089981" opacity="0.92"/>
<rect x="631.85" y="352.8" width="1.3" height="18.6" fill="#7d6a66"/>
<rect x="633.00" y="360.4" width="1" height="21.3" fill="#7d6a66" opacity="0.92"/>
<rect x="632.85" y="361.0" width="1.3" height="19.8" fill="#7d6a66"/>
<rect x="633.85" y="365.8" width="1.3" height="17.2" fill="#7d6a66"/>
<rect x="635.00" y="362.3" width="1" height="19.3" fill="#7d6a66" opacity="0.92"/>
<rect x="634.85" y="364.0" width="1.3" height="17.5" fill="#7d6a66"/>
<rect x="636.00" y="360.8" width="1" height="15.5" fill="#f23645" opacity="0.92"/>
<rect x="635.85" y="361.1" width="1.3" height="13.6" fill="#f23645"/>
<rect x="637.00" y="337.5" width="1" height="39.8" fill="#089981" opacity="0.92"/>
<rect x="636.85" y="352.2" width="1.3" height="24.4" fill="#089981"/>
<rect x="638.00" y="357.3" width="1" height="31.7" fill="#089981" opacity="0.92"/>
<rect x="637.85" y="358.1" width="1.3" height="15.9" fill="#7d6a66"/>
<rect x="639.00" y="363.5" width="1" height="15.6" fill="#089981" opacity="0.92"/>
<rect x="638.85" y="364.2" width="1.3" height="13.6" fill="#089981"/>
<rect x="640.00" y="365.5" width="1" height="15.1" fill="#7d6a66" opacity="0.92"/>
<rect x="639.85" y="367.0" width="1.3" height="12.6" fill="#7d6a66"/>
<rect x="641.00" y="358.6" width="1" height="12.6" fill="#089981" opacity="0.92"/>
<rect x="640.85" y="359.9" width="1.3" height="10.1" fill="#089981"/>
<rect x="642.00" y="347.6" width="1" height="19.3" fill="#089981" opacity="0.92"/>
<rect x="641.85" y="347.9" width="1.3" height="18.2" fill="#089981"/>
<rect x="643.00" y="345.4" width="1" height="15.7" fill="#089981" opacity="0.92"/>
<rect x="642.85" y="346.7" width="1.3" height="14.0" fill="#089981"/>
<rect x="644.00" y="315.9" width="1" height="38.5" fill="#089981" opacity="0.92"/>
<rect x="643.85" y="318.6" width="1.3" height="31.5" fill="#089981"/>
<rect x="645.00" y="267.0" width="1" height="87.9" fill="#089981" opacity="0.92"/>
<rect x="644.85" y="294.5" width="1.3" height="59.3" fill="#089981"/>
<rect x="646.00" y="287.3" width="1" height="76.7" fill="#f23645" opacity="0.92"/>
<rect x="645.85" y="293.7" width="1.3" height="66.5" fill="#f23645"/>
<rect x="647.00" y="307.9" width="1" height="64.8" fill="#f23645" opacity="0.92"/>
<rect x="646.85" y="312.8" width="1.3" height="56.8" fill="#f23645"/>
<rect x="648.00" y="327.7" width="1" height="85.3" fill="#7d6a66" opacity="0.92"/>
<rect x="647.85" y="337.3" width="1.3" height="65.6" fill="#7d6a66"/>
<rect x="649.00" y="339.5" width="1" height="53.6" fill="#089981" opacity="0.92"/>
<rect x="648.85" y="339.7" width="1.3" height="51.5" fill="#089981"/>
<rect x="650.00" y="322.1" width="1" height="34.5" fill="#089981" opacity="0.92"/>
<rect x="649.85" y="322.6" width="1.3" height="32.7" fill="#089981"/>
<rect x="651.00" y="277.0" width="1" height="51.6" fill="#089981" opacity="0.92"/>
<rect x="650.85" y="295.0" width="1.3" height="31.9" fill="#089981"/>
<rect x="652.00" y="290.0" width="1" height="35.4" fill="#089981" opacity="0.92"/>
<rect x="651.85" y="293.5" width="1.3" height="30.6" fill="#089981"/>
<rect x="654.00" y="290.1" width="1" height="42.8" fill="#7d6a66" opacity="0.92"/>
<rect x="653.85" y="294.0" width="1.3" height="33.8" fill="#7d6a66"/>
<rect x="655.00" y="276.0" width="1" height="61.1" fill="#089981" opacity="0.92"/>
<rect x="654.85" y="288.4" width="1.3" height="45.2" fill="#089981"/>
<rect x="656.00" y="289.1" width="1" height="64.6" fill="#7d6a66" opacity="0.92"/>
<rect x="655.85" y="290.2" width="1.3" height="62.1" fill="#7d6a66"/>
<rect x="657.00" y="310.2" width="1" height="42.0" fill="#7d6a66" opacity="0.92"/>
<rect x="656.85" y="314.9" width="1.3" height="36.0" fill="#7d6a66"/>
<rect x="658.00" y="300.6" width="1" height="36.1" fill="#f23645" opacity="0.92"/>
<rect x="657.85" y="311.8" width="1.3" height="24.0" fill="#7d6a66"/>
<rect x="659.00" y="315.9" width="1" height="17.6" fill="#7d6a66" opacity="0.92"/>
<rect x="658.85" y="317.2" width="1.3" height="15.7" fill="#7d6a66"/>
<rect x="660.00" y="320.9" width="1" height="15.5" fill="#7d6a66" opacity="0.92"/>
<rect x="659.85" y="321.4" width="1.3" height="14.9" fill="#7d6a66"/>
<rect x="661.00" y="326.9" width="1" height="16.9" fill="#7d6a66" opacity="0.92"/>
<rect x="660.85" y="328.7" width="1.3" height="14.4" fill="#7d6a66"/>
<rect x="662.00" y="325.7" width="1" height="16.0" fill="#f23645" opacity="0.92"/>
<rect x="661.85" y="326.0" width="1.3" height="14.7" fill="#f23645"/>
<rect x="663.00" y="324.4" width="1" height="16.0" fill="#7d6a66" opacity="0.92"/>
<rect x="662.85" y="324.8" width="1.3" height="13.9" fill="#7d6a66"/>
<rect x="664.00" y="327.4" width="1" height="27.5" fill="#7d6a66" opacity="0.92"/>
<rect x="663.85" y="328.8" width="1.3" height="23.5" fill="#7d6a66"/>
<rect x="665.00" y="340.8" width="1" height="62.8" fill="#f23645" opacity="0.92"/>
<rect x="664.85" y="341.2" width="1.3" height="58.2" fill="#f23645"/>
<rect x="666.00" y="368.5" width="1" height="25.6" fill="#7d6a66" opacity="0.92"/>
<rect x="665.85" y="370.5" width="1.3" height="21.6" fill="#7d6a66"/>
<rect x="667.00" y="370.4" width="1" height="20.4" fill="#f23645" opacity="0.92"/>
<rect x="666.85" y="372.7" width="1.3" height="16.0" fill="#f23645"/>
<rect x="668.00" y="369.0" width="1" height="21.0" fill="#089981" opacity="0.92"/>
<rect x="667.85" y="372.9" width="1.3" height="15.3" fill="#089981"/>
<rect x="669.00" y="378.0" width="1" height="22.0" fill="#f23645" opacity="0.92"/>
<rect x="668.85" y="378.5" width="1.3" height="21.5" fill="#f23645"/>
<rect x="670.00" y="388.2" width="1" height="35.0" fill="#f23645" opacity="0.92"/>
<rect x="669.85" y="388.9" width="1.3" height="33.8" fill="#f23645"/>
<rect x="671.00" y="412.0" width="1" height="31.0" fill="#f23645" opacity="0.92"/>
<rect x="670.85" y="412.2" width="1.3" height="29.4" fill="#f23645"/>
<rect x="672.00" y="426.2" width="1" height="38.5" fill="#f23645" opacity="0.92"/>
<rect x="671.85" y="429.7" width="1.3" height="33.6" fill="#f23645"/>
<rect x="673.00" y="444.3" width="1" height="31.8" fill="#f23645" opacity="0.92"/>
<rect x="672.85" y="445.1" width="1.3" height="27.3" fill="#f23645"/>
<rect x="674.00" y="454.5" width="1" height="29.5" fill="#f23645" opacity="0.92"/>
<rect x="673.85" y="454.5" width="1.3" height="27.6" fill="#f23645"/>
<rect x="675.00" y="466.0" width="1" height="28.2" fill="#f23645" opacity="0.92"/>
<rect x="674.85" y="468.7" width="1.3" height="22.8" fill="#f23645"/>
<rect x="676.00" y="473.0" width="1" height="17.4" fill="#089981" opacity="0.92"/>
<rect x="675.85" y="474.6" width="1.3" height="14.0" fill="#089981"/>
<rect x="677.00" y="467.3" width="1" height="13.6" fill="#089981" opacity="0.92"/>
<rect x="676.85" y="467.5" width="1.3" height="11.9" fill="#089981"/>
<rect x="678.00" y="449.3" width="1" height="26.9" fill="#089981" opacity="0.92"/>
<rect x="677.85" y="450.6" width="1.3" height="23.3" fill="#089981"/>
<rect x="679.00" y="437.9" width="1" height="20.6" fill="#089981" opacity="0.92"/>
<rect x="678.85" y="437.9" width="1.3" height="19.1" fill="#089981"/>
<rect x="680.00" y="432.0" width="1" height="20.8" fill="#089981" opacity="0.92"/>
<rect x="679.85" y="432.9" width="1.3" height="18.2" fill="#089981"/>
<rect x="681.00" y="427.0" width="1" height="25.9" fill="#089981" opacity="0.92"/>
<rect x="680.85" y="435.4" width="1.3" height="16.7" fill="#089981"/>
<rect x="682.00" y="443.4" width="1" height="20.2" fill="#f23645" opacity="0.92"/>
<rect x="681.85" y="444.1" width="1.3" height="17.3" fill="#f23645"/>
<rect x="683.00" y="446.1" width="1" height="31.3" fill="#f23645" opacity="0.92"/>
<rect x="682.85" y="447.3" width="1.3" height="29.7" fill="#f23645"/>
<rect x="684.00" y="454.8" width="1" height="25.8" fill="#f23645" opacity="0.92"/>
<rect x="683.85" y="455.4" width="1.3" height="22.8" fill="#f23645"/>
<rect x="685.00" y="462.7" width="1" height="34.3" fill="#f23645" opacity="0.92"/>
<rect x="684.85" y="464.9" width="1.3" height="29.3" fill="#f23645"/>
<rect x="686.00" y="479.4" width="1" height="36.0" fill="#f23645" opacity="0.92"/>
<rect x="685.85" y="480.1" width="1.3" height="34.8" fill="#f23645"/>
<rect x="687.00" y="488.6" width="1" height="36.1" fill="#7d6a66" opacity="0.92"/>
<rect x="686.85" y="489.2" width="1.3" height="34.0" fill="#7d6a66"/>
<rect x="688.00" y="490.2" width="1" height="27.4" fill="#7d6a66" opacity="0.92"/>
<rect x="687.85" y="491.6" width="1.3" height="25.0" fill="#7d6a66"/>
<rect x="689.00" y="497.9" width="1" height="21.7" fill="#089981" opacity="0.92"/>
<rect x="688.85" y="500.2" width="1.3" height="18.6" fill="#089981"/>
<rect x="690.00" y="493.5" width="1" height="31.4" fill="#7d6a66" opacity="0.92"/>
<rect x="689.85" y="493.9" width="1.3" height="27.2" fill="#7d6a66"/>
<rect x="691.00" y="513.3" width="1" height="19.2" fill="#7d6a66" opacity="0.92"/>
<rect x="690.85" y="514.3" width="1.3" height="16.6" fill="#7d6a66"/>
<rect x="692.00" y="526.2" width="1" height="18.0" fill="#f23645" opacity="0.92"/>
<rect x="691.85" y="526.8" width="1.3" height="15.9" fill="#f23645"/>
<rect x="693.00" y="529.9" width="1" height="18.0" fill="#7d6a66" opacity="0.92"/>
<rect x="692.85" y="530.6" width="1.3" height="16.9" fill="#7d6a66"/>
<rect x="694.00" y="535.0" width="1" height="55.0" fill="#f23645" opacity="0.92"/>
<rect x="693.85" y="537.8" width="1.3" height="20.6" fill="#7d6a66"/>
<rect x="695.00" y="525.6" width="1" height="17.2" fill="#089981" opacity="0.92"/>
<rect x="694.85" y="526.0" width="1.3" height="15.5" fill="#089981"/>
<rect x="696.00" y="512.6" width="1" height="22.4" fill="#089981" opacity="0.92"/>
<rect x="695.85" y="515.0" width="1.3" height="17.7" fill="#089981"/>
<rect x="697.00" y="485.0" width="1" height="42.4" fill="#089981" opacity="0.92"/>
<rect x="696.85" y="507.4" width="1.3" height="19.7" fill="#089981"/>
<rect x="698.00" y="491.3" width="1" height="34.8" fill="#7d6a66" opacity="0.92"/>
<rect x="697.85" y="494.2" width="1.3" height="30.1" fill="#7d6a66"/>
<rect x="699.00" y="499.3" width="1" height="24.2" fill="#7d6a66" opacity="0.92"/>
<rect x="698.85" y="500.0" width="1.3" height="21.8" fill="#7d6a66"/>
<rect x="700.00" y="503.7" width="1" height="22.1" fill="#7d6a66" opacity="0.92"/>
<rect x="699.85" y="505.4" width="1.3" height="19.2" fill="#7d6a66"/>
<rect x="701.00" y="502.9" width="1" height="23.0" fill="#7d6a66" opacity="0.92"/>
<rect x="700.85" y="504.5" width="1.3" height="18.8" fill="#7d6a66"/>
<rect x="702.00" y="501.0" width="1" height="16.0" fill="#089981" opacity="0.92"/>
<rect x="701.85" y="502.4" width="1.3" height="14.0" fill="#089981"/>
<rect x="703.00" y="495.4" width="1" height="24.1" fill="#f23645" opacity="0.92"/>
<rect x="702.85" y="498.3" width="1.3" height="20.1" fill="#f23645"/>
<rect x="704.00" y="498.8" width="1" height="18.6" fill="#f23645" opacity="0.92"/>
<rect x="703.85" y="499.9" width="1.3" height="17.0" fill="#f23645"/>
<rect x="706.00" y="476.0" width="1" height="79.0" fill="#f23645" opacity="0.92"/>
<rect x="705.85" y="503.0" width="1.3" height="20.8" fill="#f23645"/>
<rect x="707.00" y="507.4" width="1" height="16.1" fill="#f23645" opacity="0.92"/>
<rect x="706.85" y="509.0" width="1.3" height="13.6" fill="#f23645"/>
<rect x="708.00" y="502.7" width="1" height="24.6" fill="#089981" opacity="0.92"/>
<rect x="707.85" y="502.9" width="1.3" height="21.8" fill="#089981"/>
<rect x="709.00" y="502.0" width="1" height="17.8" fill="#7d6a66" opacity="0.92"/>
<rect x="708.85" y="502.5" width="1.3" height="15.6" fill="#7d6a66"/>
<rect x="710.00" y="503.1" width="1" height="10.6" fill="#7d6a66" opacity="0.92"/>
<rect x="709.85" y="503.4" width="1.3" height="10.0" fill="#7d6a66"/>
<rect x="711.00" y="501.6" width="1" height="23.6" fill="#089981" opacity="0.92"/>
<rect x="710.85" y="501.8" width="1.3" height="21.8" fill="#089981"/>
<rect x="712.00" y="511.4" width="1" height="64.6" fill="#f23645" opacity="0.92"/>
<rect x="711.85" y="513.2" width="1.3" height="28.3" fill="#f23645"/>
<rect x="713.00" y="522.7" width="1" height="22.9" fill="#f23645" opacity="0.92"/>
<rect x="712.85" y="524.8" width="1.3" height="19.3" fill="#f23645"/>
<rect x="714.00" y="523.5" width="1" height="32.5" fill="#7d6a66" opacity="0.92"/>
<rect x="713.85" y="526.6" width="1.3" height="28.8" fill="#7d6a66"/>
<rect x="715.00" y="533.6" width="1" height="22.2" fill="#089981" opacity="0.92"/>
<rect x="714.85" y="534.5" width="1.3" height="19.0" fill="#089981"/>
<rect x="716.00" y="535.2" width="1" height="19.6" fill="#7d6a66" opacity="0.92"/>
<rect x="715.85" y="536.1" width="1.3" height="16.7" fill="#7d6a66"/>
<rect x="717.00" y="523.5" width="1" height="31.6" fill="#089981" opacity="0.92"/>
<rect x="716.85" y="533.3" width="1.3" height="21.6" fill="#f23645"/>
<rect x="718.00" y="534.4" width="1" height="45.6" fill="#f23645" opacity="0.92"/>
<rect x="717.85" y="536.5" width="1.3" height="16.5" fill="#7d6a66"/>
<rect x="719.00" y="537.1" width="1" height="22.3" fill="#7d6a66" opacity="0.92"/>
<rect x="718.85" y="537.2" width="1.3" height="21.3" fill="#7d6a66"/>
<rect x="720.00" y="517.3" width="1" height="67.7" fill="#089981" opacity="0.92"/>
<rect x="719.85" y="520.1" width="1.3" height="32.6" fill="#089981"/>
<rect x="721.00" y="479.0" width="1" height="48.9" fill="#089981" opacity="0.92"/>
<rect x="720.85" y="492.9" width="1.3" height="34.5" fill="#089981"/>
<rect x="722.00" y="485.1" width="1" height="57.6" fill="#089981" opacity="0.92"/>
<rect x="721.85" y="489.9" width="1.3" height="49.6" fill="#089981"/>
<rect x="723.00" y="506.0" width="1" height="59.6" fill="#f23645" opacity="0.92"/>
<rect x="722.85" y="512.7" width="1.3" height="48.5" fill="#f23645"/>
<rect x="724.00" y="539.8" width="1" height="32.0" fill="#f23645" opacity="0.92"/>
<rect x="723.85" y="541.2" width="1.3" height="29.9" fill="#f23645"/>
<rect x="725.00" y="548.8" width="1" height="15.2" fill="#f23645" opacity="0.92"/>
<rect x="724.85" y="550.1" width="1.3" height="13.2" fill="#f23645"/>
<rect x="726.00" y="546.3" width="1" height="29.7" fill="#f23645" opacity="0.92"/>
<rect x="725.85" y="546.5" width="1.3" height="14.2" fill="#f23645"/>
<rect x="727.00" y="545.0" width="1" height="15.3" fill="#7d6a66" opacity="0.92"/>
<rect x="726.85" y="545.8" width="1.3" height="13.0" fill="#7d6a66"/>
<rect x="728.00" y="547.7" width="1" height="9.9" fill="#089981" opacity="0.92"/>
<rect x="727.85" y="548.9" width="1.3" height="8.3" fill="#089981"/>
<rect x="729.00" y="548.0" width="1" height="10.1" fill="#7d6a66" opacity="0.92"/>
<rect x="728.85" y="548.3" width="1.3" height="9.1" fill="#7d6a66"/>
<rect x="730.00" y="550.1" width="1" height="8.3" fill="#7d6a66" opacity="0.92"/>
<rect x="729.85" y="551.0" width="1.3" height="6.7" fill="#7d6a66"/>
<rect x="731.00" y="545.0" width="1" height="15.1" fill="#089981" opacity="0.92"/>
<rect x="730.85" y="549.5" width="1.3" height="10.0" fill="#089981"/>
<rect x="732.00" y="551.6" width="1" height="8.7" fill="#f23645" opacity="0.92"/>
<rect x="731.85" y="551.7" width="1.3" height="8.2" fill="#f23645"/>
<rect x="733.00" y="551.1" width="1" height="8.6" fill="#f23645" opacity="0.92"/>
<rect x="732.85" y="552.1" width="1.3" height="7.3" fill="#f23645"/>
<rect x="733.85" y="551.1" width="1.3" height="5.7" fill="#089981"/>
<rect x="735.00" y="547.5" width="1" height="8.4" fill="#089981" opacity="0.92"/>
<rect x="734.85" y="547.6" width="1.3" height="7.3" fill="#089981"/>
<rect x="736.00" y="543.9" width="1" height="8.0" fill="#089981" opacity="0.92"/>
<rect x="735.85" y="544.2" width="1.3" height="6.9" fill="#089981"/>
<rect x="737.00" y="541.3" width="1" height="7.1" fill="#089981" opacity="0.92"/>
<rect x="736.85" y="541.8" width="1.3" height="6.5" fill="#089981"/>
<rect x="738.00" y="535.7" width="1" height="11.1" fill="#089981" opacity="0.92"/>
<rect x="737.85" y="536.9" width="1.3" height="9.8" fill="#089981"/>
<rect x="739.00" y="531.0" width="1" height="14.5" fill="#089981" opacity="0.92"/>
<rect x="738.85" y="534.2" width="1.3" height="10.7" fill="#089981"/>
<rect x="740.00" y="535.1" width="1" height="7.4" fill="#089981" opacity="0.92"/>
<rect x="739.85" y="535.5" width="1.3" height="6.3" fill="#089981"/>
<rect x="741.00" y="534.7" width="1" height="8.6" fill="#7d6a66" opacity="0.92"/>
<rect x="740.85" y="535.6" width="1.3" height="7.6" fill="#7d6a66"/>
<rect x="742.00" y="538.1" width="1" height="6.6" fill="#f23645" opacity="0.92"/>
<rect x="741.85" y="538.4" width="1.3" height="5.9" fill="#f23645"/>
<rect x="743.00" y="539.2" width="1" height="5.8" fill="#f23645" opacity="0.92"/>
<rect x="742.85" y="539.7" width="1.3" height="4.9" fill="#f23645"/>
<rect x="744.00" y="537.8" width="1" height="8.3" fill="#f23645" opacity="0.92"/>
<rect x="743.85" y="538.8" width="1.3" height="6.4" fill="#f23645"/>
<rect x="745.00" y="537.1" width="1" height="9.7" fill="#f23645" opacity="0.92"/>
<rect x="744.85" y="537.6" width="1.3" height="8.3" fill="#f23645"/>
<rect x="746.00" y="540.4" width="1" height="6.3" fill="#f23645" opacity="0.92"/>
<rect x="745.85" y="541.2" width="1.3" height="5.5" fill="#f23645"/>
<rect x="747.00" y="542.0" width="1" height="7.5" fill="#f23645" opacity="0.92"/>
<rect x="746.85" y="542.4" width="1.3" height="6.7" fill="#f23645"/>
<rect x="748.00" y="545.1" width="1" height="6.1" fill="#f23645" opacity="0.92"/>
<rect x="747.85" y="545.6" width="1.3" height="5.4" fill="#f23645"/>
<rect x="749.00" y="547.3" width="1" height="7.5" fill="#f23645" opacity="0.92"/>
<rect x="748.85" y="548.2" width="1.3" height="6.4" fill="#f23645"/>
<rect x="750.00" y="550.8" width="1" height="6.1" fill="#f23645" opacity="0.92"/>
<rect x="749.85" y="551.1" width="1.3" height="5.3" fill="#f23645"/>
<rect x="751.00" y="550.3" width="1" height="11.7" fill="#f23645" opacity="0.92"/>
<rect x="750.85" y="550.8" width="1.3" height="5.5" fill="#f23645"/>
<rect x="752.00" y="548.4" width="1" height="6.8" fill="#089981" opacity="0.92"/>
<rect x="751.85" y="549.0" width="1.3" height="5.5" fill="#089981"/>
<rect x="753.00" y="544.4" width="1" height="9.8" fill="#089981" opacity="0.92"/>
<rect x="752.85" y="545.3" width="1.3" height="8.8" fill="#089981"/>
<rect x="754.00" y="541.7" width="1" height="9.2" fill="#089981" opacity="0.92"/>
<rect x="753.85" y="542.2" width="1.3" height="8.6" fill="#089981"/>
<rect x="755.00" y="541.5" width="1" height="5.1" fill="#089981" opacity="0.92"/>
<rect x="754.85" y="542.0" width="1.3" height="4.5" fill="#089981"/>
<rect x="756.00" y="537.8" width="1" height="8.8" fill="#089981" opacity="0.92"/>
<rect x="755.85" y="538.1" width="1.3" height="7.9" fill="#089981"/>
<rect x="758.00" y="535.8" width="1" height="9.4" fill="#089981" opacity="0.92"/>
<rect x="757.85" y="536.7" width="1.3" height="8.2" fill="#089981"/>
<rect x="759.00" y="534.6" width="1" height="10.1" fill="#089981" opacity="0.92"/>
<rect x="758.85" y="535.3" width="1.3" height="9.3" fill="#089981"/>
<rect x="760.00" y="534.0" width="1" height="9.7" fill="#7d6a66" opacity="0.92"/>
<rect x="759.85" y="534.3" width="1.3" height="8.5" fill="#7d6a66"/>
<rect x="761.00" y="532.3" width="1" height="9.6" fill="#7d6a66" opacity="0.92"/>
<rect x="760.85" y="532.5" width="1.3" height="8.8" fill="#7d6a66"/>
<rect x="762.00" y="526.5" width="1" height="10.2" fill="#089981" opacity="0.92"/>
<rect x="761.85" y="527.0" width="1.3" height="8.6" fill="#089981"/>
<rect x="763.00" y="524.8" width="1" height="7.5" fill="#089981" opacity="0.92"/>
<rect x="762.85" y="524.9" width="1.3" height="6.5" fill="#089981"/>
<rect x="764.00" y="523.9" width="1" height="8.9" fill="#089981" opacity="0.92"/>
<rect x="763.85" y="524.5" width="1.3" height="7.9" fill="#089981"/>
<rect x="765.00" y="523.1" width="1" height="8.1" fill="#089981" opacity="0.92"/>
<rect x="764.85" y="523.7" width="1.3" height="6.7" fill="#089981"/>
<rect x="765.85" y="521.1" width="1.3" height="6.4" fill="#089981"/>
<rect x="767.00" y="514.5" width="1" height="10.8" fill="#089981" opacity="0.92"/>
<rect x="766.85" y="515.6" width="1.3" height="8.8" fill="#089981"/>
<rect x="768.00" y="496.0" width="1" height="22.6" fill="#089981" opacity="0.92"/>
<rect x="767.85" y="502.7" width="1.3" height="15.6" fill="#089981"/>
<rect x="769.00" y="498.4" width="1" height="17.2" fill="#7d6a66" opacity="0.92"/>
<rect x="768.85" y="499.5" width="1.3" height="16.1" fill="#7d6a66"/>
<rect x="770.00" y="476.0" width="1" height="37.0" fill="#089981" opacity="0.92"/>
<rect x="769.85" y="494.6" width="1.3" height="16.2" fill="#089981"/>
<rect x="771.00" y="495.0" width="1" height="14.1" fill="#089981" opacity="0.92"/>
<rect x="770.85" y="495.0" width="1.3" height="13.3" fill="#089981"/>
<rect x="772.00" y="492.8" width="1" height="21.6" fill="#7d6a66" opacity="0.92"/>
<rect x="771.85" y="493.0" width="1.3" height="20.7" fill="#7d6a66"/>
<rect x="773.00" y="495.5" width="1" height="20.3" fill="#7d6a66" opacity="0.92"/>
<rect x="772.85" y="497.7" width="1.3" height="17.2" fill="#7d6a66"/>
<rect x="774.00" y="505.0" width="1" height="15.8" fill="#7d6a66" opacity="0.92"/>
<rect x="773.85" y="506.8" width="1.3" height="12.9" fill="#7d6a66"/>
<rect x="775.00" y="505.5" width="1" height="26.1" fill="#7d6a66" opacity="0.92"/>
<rect x="774.85" y="508.4" width="1.3" height="22.0" fill="#7d6a66"/>
<rect x="776.00" y="504.2" width="1" height="23.3" fill="#7d6a66" opacity="0.92"/>
<rect x="775.85" y="506.2" width="1.3" height="20.6" fill="#7d6a66"/>
<rect x="777.00" y="508.8" width="1" height="35.2" fill="#089981" opacity="0.92"/>
<rect x="776.85" y="509.9" width="1.3" height="18.3" fill="#7d6a66"/>
<rect x="778.00" y="506.0" width="1" height="15.2" fill="#089981" opacity="0.92"/>
<rect x="777.85" y="506.1" width="1.3" height="13.6" fill="#089981"/>
<rect x="779.00" y="490.0" width="1" height="20.8" fill="#089981" opacity="0.92"/>
<rect x="778.85" y="492.7" width="1.3" height="17.2" fill="#089981"/>
<rect x="780.00" y="469.8" width="1" height="29.5" fill="#089981" opacity="0.92"/>
<rect x="779.85" y="470.6" width="1.3" height="28.4" fill="#089981"/>
<rect x="781.00" y="445.0" width="1" height="34.2" fill="#089981" opacity="0.92"/>
<rect x="780.85" y="453.2" width="1.3" height="25.0" fill="#089981"/>
<rect x="782.00" y="452.0" width="1" height="22.5" fill="#089981" opacity="0.92"/>
<rect x="781.85" y="453.3" width="1.3" height="20.5" fill="#089981"/>
<rect x="783.00" y="454.0" width="1" height="16.9" fill="#f23645" opacity="0.92"/>
<rect x="782.85" y="454.9" width="1.3" height="14.1" fill="#f23645"/>
<rect x="784.00" y="454.4" width="1" height="21.8" fill="#f23645" opacity="0.92"/>
<rect x="783.85" y="454.4" width="1.3" height="20.2" fill="#f23645"/>
<rect x="785.00" y="463.7" width="1" height="39.2" fill="#f23645" opacity="0.92"/>
<rect x="784.85" y="468.2" width="1.3" height="32.9" fill="#f23645"/>
<rect x="786.00" y="480.9" width="1" height="51.5" fill="#f23645" opacity="0.92"/>
<rect x="785.85" y="484.6" width="1.3" height="45.6" fill="#f23645"/>
<rect x="787.00" y="503.5" width="1" height="26.8" fill="#7d6a66" opacity="0.92"/>
<rect x="786.85" y="504.4" width="1.3" height="23.8" fill="#7d6a66"/>
<rect x="788.00" y="505.3" width="1" height="23.3" fill="#7d6a66" opacity="0.92"/>
<rect x="787.85" y="506.2" width="1.3" height="21.0" fill="#7d6a66"/>
<rect x="789.00" y="509.9" width="1" height="18.3" fill="#7d6a66" opacity="0.92"/>
<rect x="788.85" y="510.1" width="1.3" height="17.5" fill="#7d6a66"/>
<rect x="790.00" y="508.2" width="1" height="21.0" fill="#f23645" opacity="0.92"/>
<rect x="789.85" y="510.2" width="1.3" height="17.9" fill="#f23645"/>
<rect x="791.00" y="512.1" width="1" height="21.0" fill="#7d6a66" opacity="0.92"/>
<rect x="790.85" y="513.2" width="1.3" height="19.3" fill="#7d6a66"/>
<rect x="792.00" y="514.9" width="1" height="63.1" fill="#f23645" opacity="0.92"/>
<rect x="791.85" y="515.3" width="1.3" height="29.0" fill="#f23645"/>
<rect x="793.00" y="519.9" width="1" height="29.1" fill="#7d6a66" opacity="0.92"/>
<rect x="792.85" y="522.8" width="1.3" height="25.1" fill="#7d6a66"/>
<rect x="794.00" y="478.0" width="1" height="66.9" fill="#089981" opacity="0.92"/>
<rect x="793.85" y="495.7" width="1.3" height="44.0" fill="#089981"/>
<rect x="795.00" y="506.1" width="1" height="34.9" fill="#089981" opacity="0.92"/>
<rect x="794.85" y="508.7" width="1.3" height="32.0" fill="#089981"/>
<rect x="796.00" y="514.6" width="1" height="22.3" fill="#f23645" opacity="0.92"/>
<rect x="795.85" y="516.1" width="1.3" height="18.3" fill="#f23645"/>
<rect x="797.00" y="518.5" width="1" height="23.5" fill="#f23645" opacity="0.92"/>
<rect x="796.85" y="520.3" width="1.3" height="21.6" fill="#f23645"/>
<rect x="798.00" y="501.0" width="1" height="54.0" fill="#089981" opacity="0.92"/>
<rect x="797.85" y="522.5" width="1.3" height="19.7" fill="#7d6a66"/>
<rect x="799.00" y="523.2" width="1" height="20.4" fill="#f23645" opacity="0.92"/>
<rect x="798.85" y="524.2" width="1.3" height="17.7" fill="#f23645"/>
<rect x="800.00" y="529.7" width="1" height="18.4" fill="#089981" opacity="0.92"/>
<rect x="799.85" y="531.5" width="1.3" height="15.7" fill="#089981"/>
<rect x="801.00" y="524.2" width="1" height="23.0" fill="#7d6a66" opacity="0.92"/>
<rect x="800.85" y="525.2" width="1.3" height="20.7" fill="#7d6a66"/>
<rect x="802.00" y="521.8" width="1" height="22.9" fill="#089981" opacity="0.92"/>
<rect x="801.85" y="522.1" width="1.3" height="21.7" fill="#089981"/>
<rect x="803.00" y="523.1" width="1" height="17.9" fill="#089981" opacity="0.92"/>
<rect x="802.85" y="523.3" width="1.3" height="15.9" fill="#089981"/>
<rect x="804.00" y="515.3" width="1" height="19.4" fill="#089981" opacity="0.92"/>
<rect x="803.85" y="516.8" width="1.3" height="16.6" fill="#089981"/>
<rect x="804.85" y="506.7" width="1.3" height="13.9" fill="#089981"/>
<rect x="806.00" y="495.2" width="1" height="14.3" fill="#089981" opacity="0.92"/>
<rect x="805.85" y="496.1" width="1.3" height="11.7" fill="#089981"/>
<rect x="807.00" y="476.0" width="1" height="31.3" fill="#089981" opacity="0.92"/>
<rect x="806.85" y="489.3" width="1.3" height="16.1" fill="#089981"/>
<rect x="808.00" y="487.0" width="1" height="21.0" fill="#7d6a66" opacity="0.92"/>
<rect x="807.85" y="487.3" width="1.3" height="18.5" fill="#7d6a66"/>
<rect x="810.00" y="489.5" width="1" height="18.5" fill="#7d6a66" opacity="0.92"/>
<rect x="809.85" y="489.6" width="1.3" height="17.4" fill="#7d6a66"/>
<rect x="811.00" y="474.0" width="1" height="27.0" fill="#089981" opacity="0.92"/>
<rect x="810.85" y="487.7" width="1.3" height="11.7" fill="#089981"/>
<rect x="812.00" y="486.3" width="1" height="9.2" fill="#f23645" opacity="0.92"/>
<rect x="811.85" y="486.8" width="1.3" height="7.9" fill="#f23645"/>
<rect x="813.00" y="486.7" width="1" height="9.0" fill="#f23645" opacity="0.92"/>
<rect x="812.85" y="486.9" width="1.3" height="8.2" fill="#f23645"/>
<rect x="814.00" y="487.7" width="1" height="9.7" fill="#7d6a66" opacity="0.92"/>
<rect x="813.85" y="487.9" width="1.3" height="9.0" fill="#7d6a66"/>
<rect x="815.00" y="482.2" width="1" height="13.5" fill="#089981" opacity="0.92"/>
<rect x="814.85" y="482.8" width="1.3" height="12.0" fill="#089981"/>
<rect x="816.00" y="459.8" width="1" height="34.6" fill="#089981" opacity="0.92"/>
<rect x="815.85" y="461.9" width="1.3" height="30.8" fill="#089981"/>
<rect x="817.00" y="430.5" width="1" height="34.7" fill="#089981" opacity="0.92"/>
<rect x="816.85" y="432.9" width="1.3" height="28.8" fill="#089981"/>
<rect x="818.00" y="424.4" width="1" height="27.4" fill="#7d6a66" opacity="0.92"/>
<rect x="817.85" y="425.6" width="1.3" height="24.3" fill="#7d6a66"/>
<rect x="819.00" y="412.0" width="1" height="32.6" fill="#f23645" opacity="0.92"/>
<rect x="818.85" y="423.9" width="1.3" height="19.8" fill="#f23645"/>
<rect x="820.00" y="407.8" width="1" height="31.2" fill="#089981" opacity="0.92"/>
<rect x="819.85" y="410.4" width="1.3" height="27.7" fill="#089981"/>
<rect x="821.00" y="393.3" width="1" height="43.0" fill="#089981" opacity="0.92"/>
<rect x="820.85" y="394.6" width="1.3" height="37.9" fill="#089981"/>
<rect x="822.00" y="388.1" width="1" height="37.4" fill="#7d6a66" opacity="0.92"/>
<rect x="821.85" y="390.7" width="1.3" height="33.7" fill="#7d6a66"/>
<rect x="823.00" y="384.7" width="1" height="32.5" fill="#089981" opacity="0.92"/>
<rect x="822.85" y="387.9" width="1.3" height="27.8" fill="#089981"/>
<rect x="824.00" y="383.6" width="1" height="24.3" fill="#089981" opacity="0.92"/>
<rect x="823.85" y="384.8" width="1.3" height="21.2" fill="#089981"/>
<rect x="825.00" y="201.0" width="1" height="187.1" fill="#089981" opacity="0.92"/>
<rect x="824.85" y="262.9" width="1.3" height="109.5" fill="#089981"/>
<rect x="826.00" y="219.9" width="1" height="78.3" fill="#7d6a66" opacity="0.92"/>
<rect x="825.85" y="228.4" width="1.3" height="65.5" fill="#7d6a66"/>
<rect x="827.00" y="225.3" width="1" height="27.2" fill="#089981" opacity="0.92"/>
<rect x="826.85" y="225.6" width="1.3" height="25.8" fill="#089981"/>
<rect x="828.00" y="220.4" width="1" height="28.0" fill="#7d6a66" opacity="0.92"/>
<rect x="827.85" y="222.4" width="1.3" height="24.3" fill="#7d6a66"/>
<rect x="829.00" y="208.0" width="1" height="39.9" fill="#f23645" opacity="0.92"/>
<rect x="828.85" y="214.2" width="1.3" height="29.8" fill="#089981"/>
<rect x="830.00" y="210.0" width="1" height="30.0" fill="#089981" opacity="0.92"/>
<rect x="829.85" y="212.9" width="1.3" height="26.8" fill="#089981"/>
<rect x="831.00" y="198.0" width="1" height="47.1" fill="#f23645" opacity="0.92"/>
<rect x="830.85" y="213.3" width="1.3" height="31.1" fill="#f23645"/>
<rect x="832.00" y="225.2" width="1" height="23.4" fill="#7d6a66" opacity="0.92"/>
<rect x="831.85" y="226.7" width="1.3" height="20.1" fill="#7d6a66"/>
<rect x="833.00" y="227.9" width="1" height="18.5" fill="#f23645" opacity="0.92"/>
<rect x="832.85" y="229.6" width="1.3" height="15.5" fill="#f23645"/>
<rect x="834.00" y="224.0" width="1" height="21.3" fill="#7d6a66" opacity="0.92"/>
<rect x="833.85" y="231.2" width="1.3" height="12.7" fill="#7d6a66"/>
<rect x="835.00" y="234.2" width="1" height="9.1" fill="#089981" opacity="0.92"/>
<rect x="834.85" y="234.5" width="1.3" height="7.9" fill="#089981"/>
<rect x="836.00" y="233.3" width="1" height="12.4" fill="#7d6a66" opacity="0.92"/>
<rect x="835.85" y="233.4" width="1.3" height="11.6" fill="#7d6a66"/>
<rect x="837.00" y="241.5" width="1" height="17.7" fill="#f23645" opacity="0.92"/>
<rect x="836.85" y="241.7" width="1.3" height="16.3" fill="#f23645"/>
<rect x="838.00" y="258.3" width="1" height="42.7" fill="#f23645" opacity="0.92"/>
<rect x="837.85" y="259.1" width="1.3" height="19.9" fill="#f23645"/>
<rect x="839.00" y="251.3" width="1" height="30.1" fill="#089981" opacity="0.92"/>
<rect x="838.85" y="254.4" width="1.3" height="24.8" fill="#089981"/>
<rect x="840.00" y="218.6" width="1" height="61.5" fill="#089981" opacity="0.92"/>
<rect x="839.85" y="222.7" width="1.3" height="52.1" fill="#089981"/>
<rect x="841.00" y="205.1" width="1" height="40.9" fill="#089981" opacity="0.92"/>
<rect x="840.85" y="209.6" width="1.3" height="32.5" fill="#089981"/>
<rect x="842.00" y="186.9" width="1" height="35.7" fill="#089981" opacity="0.92"/>
<rect x="841.85" y="188.0" width="1.3" height="34.3" fill="#089981"/>
<rect x="843.00" y="150.0" width="1" height="74.0" fill="#089981" opacity="0.92"/>
<rect x="842.85" y="169.4" width="1.3" height="51.9" fill="#089981"/>
<rect x="844.00" y="181.1" width="1" height="49.8" fill="#7d6a66" opacity="0.92"/>
<rect x="843.85" y="185.8" width="1.3" height="43.7" fill="#7d6a66"/>
<rect x="845.00" y="190.4" width="1" height="58.2" fill="#f23645" opacity="0.92"/>
<rect x="844.85" y="193.0" width="1.3" height="50.6" fill="#f23645"/>
<rect x="846.00" y="152.0" width="1" height="64.9" fill="#089981" opacity="0.92"/>
<rect x="845.85" y="167.2" width="1.3" height="46.3" fill="#089981"/>
<rect x="847.00" y="171.6" width="1" height="27.8" fill="#089981" opacity="0.92"/>
<rect x="846.85" y="173.5" width="1.3" height="24.7" fill="#7d6a66"/>
<rect x="848.00" y="185.2" width="1" height="16.6" fill="#f23645" opacity="0.92"/>
<rect x="847.85" y="187.1" width="1.3" height="13.4" fill="#f23645"/>
<rect x="849.00" y="188.8" width="1" height="16.0" fill="#f23645" opacity="0.92"/>
<rect x="848.85" y="189.0" width="1.3" height="14.8" fill="#f23645"/>
<rect x="850.00" y="198.8" width="1" height="21.8" fill="#f23645" opacity="0.92"/>
<rect x="849.85" y="199.2" width="1.3" height="18.9" fill="#f23645"/>
<rect x="851.00" y="214.8" width="1" height="21.5" fill="#f23645" opacity="0.92"/>
<rect x="850.85" y="215.6" width="1.3" height="18.4" fill="#f23645"/>
<rect x="852.00" y="230.7" width="1" height="21.0" fill="#f23645" opacity="0.92"/>
<rect x="851.85" y="230.9" width="1.3" height="19.2" fill="#f23645"/>
<rect x="852.85" y="246.2" width="1.3" height="20.8" fill="#f23645"/>
<rect x="854.00" y="254.9" width="1" height="48.1" fill="#f23645" opacity="0.92"/>
<rect x="853.85" y="257.3" width="1.3" height="28.3" fill="#089981"/>
<rect x="855.00" y="257.1" width="1" height="21.7" fill="#089981" opacity="0.92"/>
<rect x="854.85" y="259.3" width="1.3" height="17.5" fill="#089981"/>
<rect x="856.00" y="248.4" width="1" height="19.5" fill="#089981" opacity="0.92"/>
<rect x="855.85" y="249.7" width="1.3" height="18.1" fill="#089981"/>
<rect x="857.00" y="240.4" width="1" height="18.1" fill="#089981" opacity="0.92"/>
<rect x="856.85" y="241.6" width="1.3" height="16.5" fill="#089981"/>
<rect x="858.00" y="233.6" width="1" height="14.0" fill="#089981" opacity="0.92"/>
<rect x="857.85" y="234.5" width="1.3" height="12.8" fill="#089981"/>
<rect x="859.00" y="220.8" width="1" height="14.9" fill="#089981" opacity="0.92"/>
<rect x="858.85" y="221.7" width="1.3" height="13.9" fill="#089981"/>
<rect x="861.00" y="177.0" width="1" height="42.6" fill="#f23645" opacity="0.92"/>
<rect x="860.85" y="197.0" width="1.3" height="21.0" fill="#089981"/>
<rect x="862.00" y="183.2" width="1" height="19.9" fill="#7d6a66" opacity="0.92"/>
<rect x="861.85" y="185.5" width="1.3" height="16.3" fill="#7d6a66"/>
<rect x="863.00" y="186.4" width="1" height="29.1" fill="#089981" opacity="0.92"/>
<rect x="862.85" y="187.5" width="1.3" height="26.9" fill="#089981"/>
<rect x="864.00" y="174.0" width="1" height="32.9" fill="#089981" opacity="0.92"/>
<rect x="863.85" y="177.8" width="1.3" height="25.3" fill="#089981"/>
<rect x="865.00" y="169.0" width="1" height="34.4" fill="#089981" opacity="0.92"/>
<rect x="864.85" y="177.0" width="1.3" height="23.1" fill="#f23645"/>
<rect x="866.00" y="193.4" width="1" height="39.7" fill="#f23645" opacity="0.92"/>
<rect x="865.85" y="197.9" width="1.3" height="35.2" fill="#f23645"/>
<rect x="867.00" y="217.9" width="1" height="74.1" fill="#f23645" opacity="0.92"/>
<rect x="866.85" y="220.2" width="1.3" height="33.7" fill="#f23645"/>
<rect x="868.00" y="228.9" width="1" height="33.1" fill="#7d6a66" opacity="0.92"/>
<rect x="867.85" y="231.6" width="1.3" height="27.9" fill="#7d6a66"/>
<rect x="869.00" y="229.0" width="1" height="44.3" fill="#f23645" opacity="0.92"/>
<rect x="868.85" y="236.0" width="1.3" height="36.8" fill="#f23645"/>
<rect x="870.00" y="256.2" width="1" height="49.8" fill="#f23645" opacity="0.92"/>
<rect x="869.85" y="258.8" width="1.3" height="33.7" fill="#7d6a66"/>
<rect x="871.00" y="263.6" width="1" height="29.7" fill="#7d6a66" opacity="0.92"/>
<rect x="870.85" y="267.0" width="1.3" height="26.2" fill="#7d6a66"/>
<rect x="872.00" y="267.5" width="1" height="23.1" fill="#089981" opacity="0.92"/>
<rect x="871.85" y="268.9" width="1.3" height="20.1" fill="#089981"/>
<rect x="873.00" y="262.0" width="1" height="31.1" fill="#7d6a66" opacity="0.92"/>
<rect x="872.85" y="265.0" width="1.3" height="28.1" fill="#7d6a66"/>
<rect x="874.00" y="258.2" width="1" height="18.1" fill="#089981" opacity="0.92"/>
<rect x="873.85" y="260.0" width="1.3" height="15.4" fill="#089981"/>
<rect x="875.00" y="248.8" width="1" height="20.2" fill="#089981" opacity="0.92"/>
<rect x="874.85" y="248.8" width="1.3" height="18.3" fill="#089981"/>
<rect x="876.00" y="243.0" width="1" height="17.3" fill="#089981" opacity="0.92"/>
<rect x="875.85" y="246.4" width="1.3" height="12.8" fill="#089981"/>
<rect x="877.00" y="248.2" width="1" height="21.1" fill="#f23645" opacity="0.92"/>
<rect x="876.85" y="249.6" width="1.3" height="18.9" fill="#f23645"/>
<rect x="878.00" y="260.3" width="1" height="24.8" fill="#f23645" opacity="0.92"/>
<rect x="877.85" y="262.3" width="1.3" height="21.4" fill="#f23645"/>
<rect x="879.00" y="266.9" width="1" height="20.3" fill="#f23645" opacity="0.92"/>
<rect x="878.85" y="267.3" width="1.3" height="19.5" fill="#f23645"/>
<rect x="880.00" y="266.8" width="1" height="39.2" fill="#f23645" opacity="0.92"/>
<rect x="879.85" y="268.9" width="1.3" height="18.8" fill="#f23645"/>
<rect x="881.00" y="260.0" width="1" height="21.4" fill="#089981" opacity="0.92"/>
<rect x="880.85" y="260.6" width="1.3" height="19.1" fill="#089981"/>
<rect x="882.00" y="257.7" width="1" height="14.9" fill="#7d6a66" opacity="0.92"/>
<rect x="881.85" y="258.1" width="1.3" height="12.8" fill="#7d6a66"/>
<rect x="883.00" y="256.0" width="1" height="15.8" fill="#7d6a66" opacity="0.92"/>
<rect x="882.85" y="256.4" width="1.3" height="14.8" fill="#7d6a66"/>
<rect x="884.00" y="252.0" width="1" height="19.2" fill="#089981" opacity="0.92"/>
<rect x="883.85" y="257.4" width="1.3" height="12.6" fill="#089981"/>
<rect x="885.00" y="258.0" width="1" height="17.0" fill="#089981" opacity="0.92"/>
<rect x="884.85" y="259.1" width="1.3" height="15.7" fill="#089981"/>
<rect x="886.00" y="264.0" width="1" height="20.0" fill="#7d6a66" opacity="0.92"/>
<rect x="885.85" y="264.6" width="1.3" height="18.9" fill="#7d6a66"/>
<rect x="887.00" y="262.3" width="1" height="18.3" fill="#7d6a66" opacity="0.92"/>
<rect x="886.85" y="264.5" width="1.3" height="15.3" fill="#7d6a66"/>
<rect x="888.00" y="260.5" width="1" height="18.0" fill="#7d6a66" opacity="0.92"/>
<rect x="887.85" y="262.4" width="1.3" height="13.9" fill="#7d6a66"/>
<rect x="889.00" y="256.6" width="1" height="18.8" fill="#089981" opacity="0.92"/>
<rect x="888.85" y="256.9" width="1.3" height="16.7" fill="#089981"/>
<rect x="890.00" y="255.7" width="1" height="34.3" fill="#f23645" opacity="0.92"/>
<rect x="889.85" y="257.1" width="1.3" height="29.6" fill="#f23645"/>
<rect x="891.00" y="268.9" width="1" height="67.1" fill="#f23645" opacity="0.92"/>
<rect x="890.85" y="270.5" width="1.3" height="32.2" fill="#f23645"/>
<rect x="892.00" y="292.2" width="1" height="26.7" fill="#7d6a66" opacity="0.92"/>
<rect x="891.85" y="294.1" width="1.3" height="22.4" fill="#7d6a66"/>
<rect x="893.00" y="299.2" width="1" height="17.3" fill="#089981" opacity="0.92"/>
<rect x="892.85" y="300.3" width="1.3" height="15.5" fill="#089981"/>
<rect x="894.00" y="292.0" width="1" height="20.6" fill="#089981" opacity="0.92"/>
<rect x="893.85" y="296.7" width="1.3" height="14.1" fill="#089981"/>
<rect x="895.00" y="300.6" width="1" height="15.6" fill="#f23645" opacity="0.92"/>
<rect x="894.85" y="300.8" width="1.3" height="15.0" fill="#f23645"/>
<rect x="896.00" y="294.2" width="1" height="27.8" fill="#089981" opacity="0.92"/>
<rect x="895.85" y="296.3" width="1.3" height="14.2" fill="#f23645"/>
<rect x="897.00" y="282.1" width="1" height="15.4" fill="#f23645" opacity="0.92"/>
<rect x="896.85" y="282.4" width="1.3" height="13.8" fill="#f23645"/>
<rect x="898.00" y="281.3" width="1" height="14.1" fill="#089981" opacity="0.92"/>
<rect x="897.85" y="282.5" width="1.3" height="11.5" fill="#089981"/>
<rect x="899.00" y="277.0" width="1" height="14.2" fill="#089981" opacity="0.92"/>
<rect x="898.85" y="281.4" width="1.3" height="9.2" fill="#089981"/>
<rect x="900.00" y="284.3" width="1" height="6.5" fill="#f23645" opacity="0.92"/>
<rect x="899.85" y="284.5" width="1.3" height="5.6" fill="#f23645"/>
<rect x="900.85" y="287.2" width="1.3" height="5.8" fill="#f23645"/>
<rect x="902.00" y="287.8" width="1" height="10.2" fill="#7d6a66" opacity="0.92"/>
<rect x="901.85" y="288.0" width="1.3" height="5.9" fill="#7d6a66"/>
<rect x="902.85" y="286.9" width="1.3" height="6.7" fill="#7d6a66"/>
<rect x="904.00" y="286.3" width="1" height="6.9" fill="#089981" opacity="0.92"/>
<rect x="903.85" y="286.7" width="1.3" height="5.9" fill="#089981"/>
<rect x="905.00" y="287.9" width="1" height="6.0" fill="#7d6a66" opacity="0.92"/>
<rect x="904.85" y="288.3" width="1.3" height="4.9" fill="#7d6a66"/>
<rect x="905.85" y="286.8" width="1.3" height="5.9" fill="#7d6a66"/>
<rect x="907.00" y="282.6" width="1" height="7.0" fill="#089981" opacity="0.92"/>
<rect x="906.85" y="283.3" width="1.3" height="5.6" fill="#089981"/>
<rect x="908.00" y="279.2" width="1" height="7.0" fill="#089981" opacity="0.92"/>
<rect x="907.85" y="279.7" width="1.3" height="6.4" fill="#089981"/>
<rect x="909.00" y="275.9" width="1" height="8.2" fill="#089981" opacity="0.92"/>
<rect x="908.85" y="276.2" width="1.3" height="7.1" fill="#089981"/>
<rect x="910.00" y="274.3" width="1" height="7.1" fill="#089981" opacity="0.92"/>
<rect x="909.85" y="274.8" width="1.3" height="5.9" fill="#089981"/>
<rect x="911.00" y="270.0" width="1" height="7.0" fill="#089981" opacity="0.92"/>
<rect x="910.85" y="270.4" width="1.3" height="6.5" fill="#089981"/>
<rect x="913.00" y="266.0" width="1" height="10.0" fill="#089981" opacity="0.92"/>
<rect x="912.85" y="267.1" width="1.3" height="7.7" fill="#089981"/>
<rect x="914.00" y="263.8" width="1" height="11.9" fill="#089981" opacity="0.92"/>
<rect x="913.85" y="263.9" width="1.3" height="10.8" fill="#089981"/>
<rect x="915.00" y="257.0" width="1" height="10.5" fill="#089981" opacity="0.92"/>
<rect x="914.85" y="257.5" width="1.3" height="10.0" fill="#089981"/>
<rect x="916.00" y="239.0" width="1" height="20.0" fill="#089981" opacity="0.92"/>
<rect x="915.85" y="242.3" width="1.3" height="16.3" fill="#089981"/>
<rect x="916.85" y="244.5" width="1.3" height="9.2" fill="#089981"/>
<rect x="918.00" y="245.2" width="1" height="8.2" fill="#f23645" opacity="0.92"/>
<rect x="917.85" y="245.7" width="1.3" height="7.6" fill="#f23645"/>
<rect x="918.85" y="246.7" width="1.3" height="9.4" fill="#f23645"/>
<rect x="920.00" y="250.2" width="1" height="7.0" fill="#f23645" opacity="0.92"/>
<rect x="919.85" y="250.6" width="1.3" height="6.1" fill="#f23645"/>
<rect x="921.00" y="251.5" width="1" height="7.5" fill="#7d6a66" opacity="0.92"/>
<rect x="920.85" y="252.3" width="1.3" height="6.2" fill="#7d6a66"/>
<rect x="922.00" y="253.8" width="1" height="10.7" fill="#7d6a66" opacity="0.92"/>
<rect x="921.85" y="254.4" width="1.3" height="9.4" fill="#7d6a66"/>
<rect x="923.00" y="257.6" width="1" height="21.4" fill="#f23645" opacity="0.92"/>
<rect x="922.85" y="258.9" width="1.3" height="10.6" fill="#f23645"/>
<rect x="924.00" y="259.5" width="1" height="13.5" fill="#f23645" opacity="0.92"/>
<rect x="923.85" y="261.0" width="1.3" height="10.6" fill="#f23645"/>
<rect x="925.00" y="261.2" width="1" height="14.3" fill="#f23645" opacity="0.92"/>
<rect x="924.85" y="261.5" width="1.3" height="13.1" fill="#f23645"/>
<rect x="926.00" y="261.3" width="1" height="12.0" fill="#089981" opacity="0.92"/>
<rect x="925.85" y="261.7" width="1.3" height="11.3" fill="#089981"/>
<rect x="927.00" y="258.6" width="1" height="23.4" fill="#089981" opacity="0.92"/>
<rect x="926.85" y="258.9" width="1.3" height="10.8" fill="#089981"/>
<rect x="928.00" y="256.0" width="1" height="13.3" fill="#7d6a66" opacity="0.92"/>
<rect x="927.85" y="256.2" width="1.3" height="11.6" fill="#7d6a66"/>
<rect x="929.00" y="254.7" width="1" height="9.7" fill="#7d6a66" opacity="0.92"/>
<rect x="928.85" y="255.1" width="1.3" height="8.7" fill="#7d6a66"/>
<rect x="929.85" y="256.0" width="1.3" height="5.6" fill="#7d6a66"/>
<rect x="931.00" y="254.9" width="1" height="6.0" fill="#7d6a66" opacity="0.92"/>
<rect x="930.85" y="255.3" width="1.3" height="5.3" fill="#7d6a66"/>
<rect x="932.00" y="255.3" width="1" height="8.3" fill="#7d6a66" opacity="0.92"/>
<rect x="931.85" y="255.8" width="1.3" height="7.3" fill="#7d6a66"/>
<rect x="933.00" y="254.8" width="1" height="18.2" fill="#7d6a66" opacity="0.92"/>
<rect x="932.85" y="255.9" width="1.3" height="7.8" fill="#7d6a66"/>
<rect x="934.00" y="248.7" width="1" height="10.4" fill="#089981" opacity="0.92"/>
<rect x="933.85" y="248.8" width="1.3" height="9.3" fill="#089981"/>
<rect x="935.00" y="243.8" width="1" height="11.8" fill="#089981" opacity="0.92"/>
<rect x="934.85" y="244.1" width="1.3" height="10.3" fill="#089981"/>
<rect x="936.00" y="242.9" width="1" height="11.1" fill="#f23645" opacity="0.92"/>
<rect x="935.85" y="243.9" width="1.3" height="9.7" fill="#f23645"/>
<rect x="937.00" y="241.8" width="1" height="12.0" fill="#7d6a66" opacity="0.92"/>
<rect x="936.85" y="242.6" width="1.3" height="10.7" fill="#7d6a66"/>
<rect x="938.00" y="217.0" width="1" height="41.0" fill="#f23645" opacity="0.92"/>
<rect x="937.85" y="240.0" width="1.3" height="10.4" fill="#7d6a66"/>
<rect x="939.00" y="233.4" width="1" height="10.8" fill="#7d6a66" opacity="0.92"/>
<rect x="938.85" y="234.0" width="1.3" height="9.7" fill="#7d6a66"/>
<rect x="940.00" y="229.9" width="1" height="10.4" fill="#089981" opacity="0.92"/>
<rect x="939.85" y="230.9" width="1.3" height="8.1" fill="#089981"/>
<rect x="941.00" y="226.8" width="1" height="8.4" fill="#089981" opacity="0.92"/>
<rect x="940.85" y="227.6" width="1.3" height="6.9" fill="#089981"/>
<rect x="942.00" y="219.5" width="1" height="12.2" fill="#089981" opacity="0.92"/>
<rect x="941.85" y="220.7" width="1.3" height="9.8" fill="#089981"/>
<rect x="943.00" y="190.7" width="1" height="40.3" fill="#089981" opacity="0.92"/>
<rect x="942.85" y="192.6" width="1.3" height="25.6" fill="#089981"/></g>
<line x1="13" y1="329.9" x2="1720" y2="329.9" stroke="#8aa0ea" stroke-width="2"/>
<line x1="13" y1="590.9" x2="1720" y2="590.9" stroke="#8aa0ea" stroke-width="2"/>
<g stroke="#f08427" stroke-width="2.2" stroke-linecap="round" fill="none">
<line x1="843.4" y1="149.6" x2="1268.2" y2="148.7"/>
<line x1="864" y1="171.2" x2="1251.6" y2="169.4"/>
<line x1="651" y1="287" x2="823" y2="287"/>
<line x1="887.6" y1="335.9" x2="1068" y2="335.9"/>
<line x1="561" y1="559.9" x2="692.4" y2="558.3"/>
<line x1="789.6" y1="567.9" x2="1394.5" y2="563.6"/>
<line x1="544" y1="714" x2="1280" y2="253.6"/>
</g>
<g stroke="#2d65f5" stroke-width="3" fill="none" stroke-linejoin="round" stroke-linecap="round">
<polyline points="917,242 953,339 994,179.5 1022.3,587.5"/>
<polyline points="1008.7,577 1022.3,588 1034.7,575.2" stroke-width="2.4"/>
</g>
<rect x="911" y="84.9" width="160.9" height="106.6" fill="rgba(242,54,69,0.36)"/>
<rect x="911.5" y="85.4" width="159.9" height="105.8" fill="none" stroke="rgba(120,60,80,0.2)" stroke-width="1"/>
<rect x="911" y="191.5" width="160.9" height="395.1" rx="2" fill="rgba(76,175,80,0.5)"/>
<g><rect x="909.00" y="275.9" width="1" height="8.2" fill="#089981" opacity="0.92"/>
<rect x="908.85" y="276.2" width="1.3" height="7.1" fill="#089981"/>
<rect x="910.00" y="274.3" width="1" height="7.1" fill="#089981" opacity="0.92"/>
<rect x="909.85" y="274.8" width="1.3" height="5.9" fill="#089981"/>
<rect x="911.00" y="270.0" width="1" height="7.0" fill="#089981" opacity="0.92"/>
<rect x="910.85" y="270.4" width="1.3" height="6.5" fill="#089981"/>
<rect x="913.00" y="266.0" width="1" height="10.0" fill="#089981" opacity="0.92"/>
<rect x="912.85" y="267.1" width="1.3" height="7.7" fill="#089981"/>
<rect x="914.00" y="263.8" width="1" height="11.9" fill="#089981" opacity="0.92"/>
<rect x="913.85" y="263.9" width="1.3" height="10.8" fill="#089981"/>
<rect x="915.00" y="257.0" width="1" height="10.5" fill="#089981" opacity="0.92"/>
<rect x="914.85" y="257.5" width="1.3" height="10.0" fill="#089981"/>
<rect x="916.00" y="239.0" width="1" height="20.0" fill="#089981" opacity="0.92"/>
<rect x="915.85" y="242.3" width="1.3" height="16.3" fill="#089981"/>
<rect x="916.85" y="244.5" width="1.3" height="9.2" fill="#089981"/>
<rect x="918.00" y="245.2" width="1" height="8.2" fill="#f23645" opacity="0.92"/>
<rect x="917.85" y="245.7" width="1.3" height="7.6" fill="#f23645"/>
<rect x="918.85" y="246.7" width="1.3" height="9.4" fill="#f23645"/>
<rect x="920.00" y="250.2" width="1" height="7.0" fill="#f23645" opacity="0.92"/>
<rect x="919.85" y="250.6" width="1.3" height="6.1" fill="#f23645"/>
<rect x="921.00" y="251.5" width="1" height="7.5" fill="#7d6a66" opacity="0.92"/>
<rect x="920.85" y="252.3" width="1.3" height="6.2" fill="#7d6a66"/>
<rect x="922.00" y="253.8" width="1" height="10.7" fill="#7d6a66" opacity="0.92"/>
<rect x="921.85" y="254.4" width="1.3" height="9.4" fill="#7d6a66"/>
<rect x="923.00" y="257.6" width="1" height="21.4" fill="#f23645" opacity="0.92"/>
<rect x="922.85" y="258.9" width="1.3" height="10.6" fill="#f23645"/>
<rect x="924.00" y="259.5" width="1" height="13.5" fill="#f23645" opacity="0.92"/>
<rect x="923.85" y="261.0" width="1.3" height="10.6" fill="#f23645"/>
<rect x="925.00" y="261.2" width="1" height="14.3" fill="#f23645" opacity="0.92"/>
<rect x="924.85" y="261.5" width="1.3" height="13.1" fill="#f23645"/>
<rect x="926.00" y="261.3" width="1" height="12.0" fill="#089981" opacity="0.92"/>
<rect x="925.85" y="261.7" width="1.3" height="11.3" fill="#089981"/>
<rect x="927.00" y="258.6" width="1" height="23.4" fill="#089981" opacity="0.92"/>
<rect x="926.85" y="258.9" width="1.3" height="10.8" fill="#089981"/>
<rect x="928.00" y="256.0" width="1" height="13.3" fill="#7d6a66" opacity="0.92"/>
<rect x="927.85" y="256.2" width="1.3" height="11.6" fill="#7d6a66"/>
<rect x="929.00" y="254.7" width="1" height="9.7" fill="#7d6a66" opacity="0.92"/>
<rect x="928.85" y="255.1" width="1.3" height="8.7" fill="#7d6a66"/>
<rect x="929.85" y="256.0" width="1.3" height="5.6" fill="#7d6a66"/>
<rect x="931.00" y="254.9" width="1" height="6.0" fill="#7d6a66" opacity="0.92"/>
<rect x="930.85" y="255.3" width="1.3" height="5.3" fill="#7d6a66"/>
<rect x="932.00" y="255.3" width="1" height="8.3" fill="#7d6a66" opacity="0.92"/>
<rect x="931.85" y="255.8" width="1.3" height="7.3" fill="#7d6a66"/>
<rect x="933.00" y="254.8" width="1" height="18.2" fill="#7d6a66" opacity="0.92"/>
<rect x="932.85" y="255.9" width="1.3" height="7.8" fill="#7d6a66"/>
<rect x="934.00" y="248.7" width="1" height="10.4" fill="#089981" opacity="0.92"/>
<rect x="933.85" y="248.8" width="1.3" height="9.3" fill="#089981"/>
<rect x="935.00" y="243.8" width="1" height="11.8" fill="#089981" opacity="0.92"/>
<rect x="934.85" y="244.1" width="1.3" height="10.3" fill="#089981"/>
<rect x="936.00" y="242.9" width="1" height="11.1" fill="#f23645" opacity="0.92"/>
<rect x="935.85" y="243.9" width="1.3" height="9.7" fill="#f23645"/>
<rect x="937.00" y="241.8" width="1" height="12.0" fill="#7d6a66" opacity="0.92"/>
<rect x="936.85" y="242.6" width="1.3" height="10.7" fill="#7d6a66"/>
<rect x="938.00" y="217.0" width="1" height="41.0" fill="#f23645" opacity="0.92"/>
<rect x="937.85" y="240.0" width="1.3" height="10.4" fill="#7d6a66"/>
<rect x="939.00" y="233.4" width="1" height="10.8" fill="#7d6a66" opacity="0.92"/>
<rect x="938.85" y="234.0" width="1.3" height="9.7" fill="#7d6a66"/>
<rect x="940.00" y="229.9" width="1" height="10.4" fill="#089981" opacity="0.92"/>
<rect x="939.85" y="230.9" width="1.3" height="8.1" fill="#089981"/>
<rect x="941.00" y="226.8" width="1" height="8.4" fill="#089981" opacity="0.92"/>
<rect x="940.85" y="227.6" width="1.3" height="6.9" fill="#089981"/>
<rect x="942.00" y="219.5" width="1" height="12.2" fill="#089981" opacity="0.92"/>
<rect x="941.85" y="220.7" width="1.3" height="9.8" fill="#089981"/>
<rect x="943.00" y="190.7" width="1" height="40.3" fill="#089981" opacity="0.92"/>
<rect x="942.85" y="192.6" width="1.3" height="25.6" fill="#089981"/></g>
<rect x="732.8" y="558.1" width="584.6" height="38.6" fill="rgba(255,255,255,0.18)" stroke="#000" stroke-width="2"/>
<rect x="1227" y="267" width="204.9" height="323.8" fill="rgba(76,175,80,0.5)"/>
<rect x="1227.5" y="267.5" width="203.9" height="323.3" fill="none" stroke="rgba(70,100,70,0.22)" stroke-width="1"/>
<rect x="1227" y="590.8" width="204.9" height="140" fill="rgba(242,54,69,0.33)"/>
<line x1="13" y1="191.5" x2="1720" y2="191.5" stroke="#089981" stroke-width="1" stroke-dasharray="1 2"/>
</g>
<text x="23.4" y="58.9" font-size="15" textLength="249.4" lengthAdjust="spacingAndGlyphs">Ethereum / U.S. Dollar · 1h · CRYPTO</text>
<text x="283.3" y="58.9" font-size="15" textLength="67.9" lengthAdjust="spacingAndGlyphs">O<tspan style="fill:#089981">3,344.24</tspan></text>
<text x="361.6" y="58.9" font-size="15" textLength="65.9" lengthAdjust="spacingAndGlyphs">H<tspan style="fill:#089981">3,367.52</tspan></text>
<text x="438.4" y="58.9" font-size="15" textLength="64.5" lengthAdjust="spacingAndGlyphs">L<tspan style="fill:#089981">3,336.04</tspan></text>
<text x="512.4" y="58.9" font-size="15" textLength="66.5" lengthAdjust="spacingAndGlyphs">C<tspan style="fill:#089981">3,366.73</tspan></text>
<text x="589.2" y="58.9" font-size="15" style="fill:#089981" textLength="105.7" lengthAdjust="spacingAndGlyphs">+22.49 (+0.67%)</text>
<g clip-path="url(#axclip)">
<text class="ax" x="1730.2" y="51.1" textLength="59" lengthAdjust="spacingAndGlyphs">3,480.00</text>
<text class="ax" x="1730.2" y="102.0" textLength="59" lengthAdjust="spacingAndGlyphs">3,440.00</text>
<text class="ax" x="1730.2" y="152.9" textLength="59" lengthAdjust="spacingAndGlyphs">3,400.00</text>
<text class="ax" x="1730.2" y="203.8" textLength="59" lengthAdjust="spacingAndGlyphs">3,360.00</text>
<text class="ax" x="1730.2" y="254.7" textLength="59" lengthAdjust="spacingAndGlyphs">3,320.00</text>
<text class="ax" x="1730.2" y="305.6" textLength="59" lengthAdjust="spacingAndGlyphs">3,280.00</text>
<text class="ax" x="1730.2" y="356.5" textLength="59" lengthAdjust="spacingAndGlyphs">3,240.00</text>
<text class="ax" x="1730.2" y="407.4" textLength="59" lengthAdjust="spacingAndGlyphs">3,200.00</text>
<text class="ax" x="1730.2" y="458.3" textLength="59" lengthAdjust="spacingAndGlyphs">3,160.00</text>
<text class="ax" x="1730.2" y="509.2" textLength="59" lengthAdjust="spacingAndGlyphs">3,120.00</text>
<text class="ax" x="1730.2" y="560.1" textLength="59" lengthAdjust="spacingAndGlyphs">3,080.00</text>
<text class="ax" x="1730.2" y="611.0" textLength="59" lengthAdjust="spacingAndGlyphs">3,040.00</text>
<text class="ax" x="1730.2" y="661.9" textLength="59" lengthAdjust="spacingAndGlyphs">3,000.00</text>
<text class="ax" x="1730.2" y="712.8" textLength="59" lengthAdjust="spacingAndGlyphs">2,960.00</text>
</g>
<rect x="1720" y="75.1" width="74.6" height="20.4" rx="1.5" fill="#f7525f"/>
<text class="tag" x="1730.2" y="89.8" style="fill:#fff" textLength="59" lengthAdjust="spacingAndGlyphs">3,450.32</text>
<rect x="1720" y="180.9" width="74.6" height="39.2" rx="1.5" fill="#089981"/>
<text class="tag" x="1730.2" y="195.9" style="fill:#fff" textLength="59" lengthAdjust="spacingAndGlyphs">3,366.73</text>
<text class="tag" x="1730.2" y="213.4" style="fill:#b4e1d9" textLength="35.7" lengthAdjust="spacingAndGlyphs">10:33</text>
<rect x="1720" y="220.1" width="74.6" height="20.6" rx="1.5" fill="#808080"/>
<text class="tag" x="1730.2" y="234.6" style="fill:#fff" textLength="59" lengthAdjust="spacingAndGlyphs">3,365.83</text>
<rect x="1720" y="257.4" width="74.6" height="20.4" rx="1.5" fill="#5db761"/>
<text class="tag" x="1730.2" y="272.0" style="fill:#0c2a0e" textLength="59" lengthAdjust="spacingAndGlyphs">3,307.17</text>
<rect x="1720" y="320.1" width="74.6" height="20.7" rx="1.5" fill="#2962ff"/>
<text class="tag" x="1730.2" y="334.8" style="fill:#fff" textLength="59" lengthAdjust="spacingAndGlyphs">3,257.60</text>
<rect x="1720" y="576.3" width="74.6" height="20.8" rx="1.5" fill="#5db761"/>
<text class="tag" x="1730.2" y="591.0" style="fill:#0c2a0e" textLength="59" lengthAdjust="spacingAndGlyphs">3,056.95</text>
<rect x="1720" y="597.1" width="74.6" height="20.7" rx="1.5" fill="#2962ff"/>
<text class="tag" x="1730.2" y="611.8" style="fill:#fff" textLength="59" lengthAdjust="spacingAndGlyphs">3,052.77</text>
<rect x="1720" y="617.8" width="74.6" height="21.1" rx="1.5" fill="#808080"/>
<text class="tag" x="1730.2" y="632.6" style="fill:#fff" textLength="59" lengthAdjust="spacingAndGlyphs">3,052.52</text>
<text class="ax" transform="translate(43.3 736.5) scale(0.96 1)" text-anchor="middle">13</text>
<text class="ax" transform="translate(116.7 736.5) scale(0.96 1)" text-anchor="middle">16</text>
<text class="ax" transform="translate(190.2 736.5) scale(0.96 1)" text-anchor="middle">19</text>
<text class="ax" transform="translate(263.6 736.5) scale(0.96 1)" text-anchor="middle">22</text>
<text class="ax" transform="translate(337.1 736.5) scale(0.96 1)" text-anchor="middle">25</text>
<text class="ax" transform="translate(410.6 736.5) scale(0.96 1)" text-anchor="middle">28</text>
<text class="ax" transform="translate(508.5 736.5) scale(1.03 1)" text-anchor="middle" font-weight="700">2026</text>
<text class="ax" transform="translate(582.0 736.5) scale(0.96 1)" text-anchor="middle">4</text>
<text class="ax" transform="translate(655.4 736.5) scale(0.96 1)" text-anchor="middle">7</text>
<text class="ax" transform="translate(728.9 736.5) scale(0.96 1)" text-anchor="middle">10</text>
<text class="ax" transform="translate(802.3 736.5) scale(0.96 1)" text-anchor="middle">13</text>
<text class="ax" transform="translate(875.8 736.5) scale(0.96 1)" text-anchor="middle">16</text>
<text class="ax" transform="translate(949.2 736.5) scale(0.96 1)" text-anchor="middle">19</text>
<text class="ax" transform="translate(1022.7 736.5) scale(0.96 1)" text-anchor="middle">22</text>
<text class="ax" transform="translate(1096.1 736.5) scale(0.96 1)" text-anchor="middle">25</text>
<text class="ax" transform="translate(1169.6 736.5) scale(0.96 1)" text-anchor="middle">28</text>
<text class="ax" transform="translate(1267.5 736.5) scale(0.96 1)" text-anchor="middle">Feb</text>
<text class="ax" transform="translate(1341.0 736.5) scale(0.96 1)" text-anchor="middle">4</text>
<text class="ax" transform="translate(1414.4 736.5) scale(0.96 1)" text-anchor="middle">7</text>
<circle cx="944" cy="697.5" r="13.4" fill="#fff"/>
<circle cx="930.3" cy="701.6" r="6" fill="#fff"/>
<g fill="none" stroke-linecap="round" stroke-linejoin="round">
<path d="M932.56 693.56 A12.1 12.1 0 1 1 934.66 705.20" stroke="#9c27b0" stroke-width="1.5"/>
<path d="M947.9 690.9 L939.6 697.35 L947.4 697.35 L939.2 704.1" stroke="#9c27b0" stroke-width="1.3" stroke-linejoin="miter" stroke-linecap="butt"/>
</g>
<path d="M930.3 695.3000000000001 Q931.65 700.25 936.5999999999999 701.6 Q931.65 702.95 930.3 707.9 Q928.9499999999999 702.95 924.0 701.6 Q928.9499999999999 700.25 930.3 695.3000000000001Z" fill="#7c4dff"/>
<circle cx="1038.9" cy="697.4" r="12.5" fill="#f8606c" stroke="#ec3448" stroke-width="1.7"/>
<circle cx="1035.4" cy="697.4" r="12.5" fill="#fff" stroke="#e8344a" stroke-width="1.8"/>
<g clip-path="url(#flagclip)">
<rect x="1024" y="686" width="24" height="24" fill="#fff"/>
<rect x="1024" y="688.2" width="24" height="3.1" fill="#ef4a4a"/>
<rect x="1024" y="695.9" width="24" height="3.2" fill="#ef4a4a"/>
<rect x="1024" y="703.6" width="24" height="4.6" fill="#ef4a4a"/>
<rect x="1024" y="686" width="14.2" height="13.8" fill="#1e88e5"/>
<circle cx="1028.6" cy="690.4" r="0.8" fill="#e3f2fd"/>
<circle cx="1032.0" cy="690.4" r="0.8" fill="#e3f2fd"/>
<circle cx="1035.4" cy="690.4" r="0.8" fill="#e3f2fd"/>
<circle cx="1028.6" cy="693.8" r="0.8" fill="#e3f2fd"/>
<circle cx="1032.0" cy="693.8" r="0.8" fill="#e3f2fd"/>
<circle cx="1035.4" cy="693.8" r="0.8" fill="#e3f2fd"/>
<circle cx="1028.6" cy="697.2" r="0.8" fill="#e3f2fd"/>
<circle cx="1032.0" cy="697.2" r="0.8" fill="#e3f2fd"/>
<circle cx="1035.4" cy="697.2" r="0.8" fill="#e3f2fd"/>
</g>
<g transform="translate(15.2 772.0) scale(1.04)" fill="#111">
<path d="M14 22H7V11H0V4h14v18z"/><circle cx="20" cy="8" r="4"/><path d="M28 22h-8l7.5-18h8L28 22z"/>
</g>
<text x="62.0" y="794.9" font-size="25.6" font-weight="700" textLength="151" lengthAdjust="spacingAndGlyphs" style="fill:#111">TradingView</text>
</svg></body></html>
